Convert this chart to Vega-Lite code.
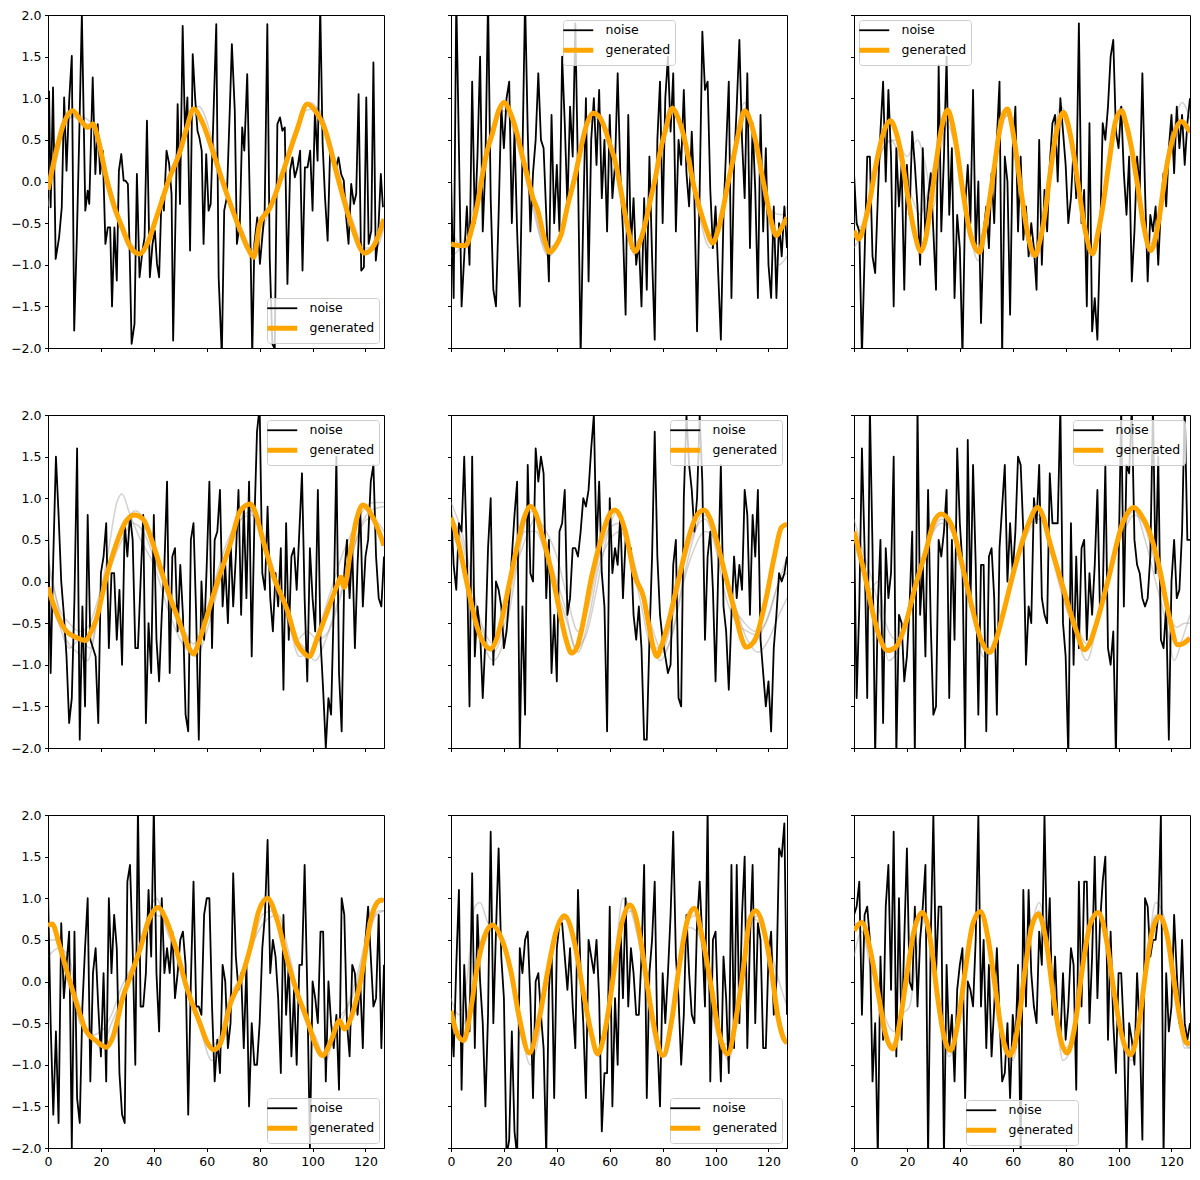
{
  "$schema": "https://vega.github.io/schema/vega-lite/v6.json",
  "background": "white",
  "padding": {"left": 10, "top": 8, "right": 5, "bottom": 5},
  "bounds": "flush",
  "columns": 3,
  "spacing": 67,
  "resolve": {"scale": {"color": "independent"}, "legend": {"color": "independent"}},
  "config": {
    "font": "DejaVu Sans",
    "view": {"stroke": "black", "strokeWidth": 1},
    "axis": {"grid": false, "title": null, "domainColor": "black", "domainWidth": 1, "tickColor": "black", "tickWidth": 1, "tickSize": 3.5, "labelPadding": 3.5, "labelFont": "DejaVu Sans", "labelFontSize": 12.5, "labelColor": "black"},
    "legend": {"labelFont": "DejaVu Sans", "labelFontSize": 12.5, "labelColor": "black", "symbolType": "stroke", "symbolSize": 900, "symbolOffset": 5, "fillColor": "rgba(255,255,255,0.8)", "strokeColor": "#cccccc", "cornerRadius": 3, "padding": 4, "rowPadding": 3, "labelOffset": 21, "offset": 5}
  },
  "datasets": {
    "n1": [{"x":0.4,"y":1.09},{"x":1.0,"y":-0.31},{"x":1.9,"y":1.13},{"x":2.9,"y":-0.93},{"x":4.2,"y":-0.67},{"x":5.2,"y":-0.31},{"x":6.1,"y":1.01},{"x":7.0,"y":0.13},{"x":8.0,"y":0.97},{"x":9.0,"y":1.51},{"x":9.9,"y":-1.79},{"x":10.9,"y":-0.67},{"x":11.8,"y":0.53},{"x":12.8,"y":2.01},{"x":14.1,"y":-0.35},{"x":15.0,"y":-0.11},{"x":15.6,"y":-0.27},{"x":16.9,"y":1.25},{"x":17.9,"y":0.09},{"x":18.8,"y":0.69},{"x":19.7,"y":0.09},{"x":20.7,"y":0.37},{"x":21.7,"y":-0.75},{"x":22.6,"y":-0.55},{"x":23.5,"y":-0.55},{"x":24.2,"y":-1.5},{"x":25.1,"y":-0.55},{"x":26.0,"y":-1.19},{"x":26.8,"y":0.13},{"x":27.7,"y":0.33},{"x":28.6,"y":0.01},{"x":29.3,"y":0.01},{"x":30.2,"y":-0.03},{"x":30.8,"y":-0.75},{"x":31.6,"y":-1.95},{"x":32.7,"y":-1.71},{"x":33.6,"y":0.09},{"x":34.6,"y":-1.15},{"x":35.7,"y":-0.83},{"x":36.5,"y":-0.67},{"x":37.4,"y":0.73},{"x":38.5,"y":-1.15},{"x":39.5,"y":-0.75},{"x":40.4,"y":-0.59},{"x":41.2,"y":-0.99},{"x":42.0,"y":-1.15},{"x":42.9,"y":-0.19},{"x":43.8,"y":-0.35},{"x":44.8,"y":0.37},{"x":45.8,"y":0.21},{"x":46.7,"y":-0.15},{"x":47.3,"y":-1.91},{"x":48.2,"y":-0.43},{"x":49.0,"y":0.93},{"x":49.9,"y":-0.27},{"x":50.9,"y":1.87},{"x":51.8,"y":0.57},{"x":52.7,"y":1.01},{"x":53.7,"y":-0.83},{"x":54.7,"y":1.53},{"x":55.6,"y":1.01},{"x":56.5,"y":0.61},{"x":57.2,"y":0.53},{"x":58.1,"y":0.37},{"x":58.8,"y":-0.75},{"x":59.8,"y":0.33},{"x":60.7,"y":-0.35},{"x":61.5,"y":-0.27},{"x":62.6,"y":0.85},{"x":63.6,"y":1.89},{"x":64.5,"y":-1.15},{"x":65.7,"y":-2.1},{"x":66.6,"y":-0.35},{"x":67.6,"y":-0.19},{"x":68.7,"y":0.85},{"x":69.5,"y":1.65},{"x":70.6,"y":0.85},{"x":71.4,"y":-0.75},{"x":72.5,"y":-0.51},{"x":73.4,"y":0.65},{"x":74.2,"y":0.37},{"x":75.3,"y":1.29},{"x":76.3,"y":-0.27},{"x":77.2,"y":-2.1},{"x":78.0,"y":-0.75},{"x":79.1,"y":-0.43},{"x":80.1,"y":-0.99},{"x":81.0,"y":-0.67},{"x":81.9,"y":-0.35},{"x":82.9,"y":1.89},{"x":83.8,"y":-0.91},{"x":84.8,"y":-1.95},{"x":85.7,"y":-2.01},{"x":86.7,"y":0.69},{"x":87.7,"y":0.77},{"x":88.6,"y":0.61},{"x":89.5,"y":0.65},{"x":90.5,"y":-1.23},{"x":91.5,"y":0.13},{"x":92.4,"y":0.29},{"x":93.3,"y":0.05},{"x":94.3,"y":0.17},{"x":95.3,"y":0.37},{"x":96.2,"y":-1.07},{"x":97.1,"y":0.17},{"x":98.1,"y":0.17},{"x":99.1,"y":0.37},{"x":100.0,"y":-0.35},{"x":100.9,"y":0.85},{"x":101.9,"y":0.25},{"x":102.9,"y":2.1},{"x":103.8,"y":0.45},{"x":104.7,"y":-0.19},{"x":105.7,"y":-0.71},{"x":106.7,"y":0.45},{"x":107.7,"y":0.25},{"x":108.9,"y":0.17},{"x":109.8,"y":0.29},{"x":110.8,"y":0.09},{"x":111.8,"y":0.01},{"x":112.7,"y":-0.43},{"x":113.6,"y":-0.75},{"x":114.6,"y":-0.03},{"x":115.6,"y":-0.27},{"x":116.5,"y":-0.15},{"x":117.4,"y":1.05},{"x":118.4,"y":-1.07},{"x":119.4,"y":-1.03},{"x":120.3,"y":1.01},{"x":121.2,"y":-0.75},{"x":122.2,"y":-0.59},{"x":123.0,"y":1.43},{"x":123.9,"y":-0.95},{"x":124.7,"y":-0.71},{"x":125.8,"y":0.09},{"x":126.6,"y":-0.31}],
    "n2": [{"x":0,"y":0.1},{"x":1,"y":-1.4},{"x":2,"y":2.2},{"x":3,"y":0.4},{"x":4,"y":-1.5},{"x":5,"y":-0.9},{"x":6,"y":-0.3},{"x":7,"y":-1.0},{"x":8,"y":1.2},{"x":9,"y":-0.5},{"x":10,"y":0.3},{"x":11,"y":1.5},{"x":12,"y":-0.6},{"x":13,"y":0.2},{"x":14,"y":2.2},{"x":15,"y":-0.2},{"x":16,"y":-1.3},{"x":17,"y":-1.5},{"x":18,"y":-0.4},{"x":19,"y":0.9},{"x":20,"y":0.4},{"x":21,"y":1.0},{"x":22,"y":1.2},{"x":23,"y":-0.5},{"x":24,"y":0.6},{"x":25,"y":-0.6},{"x":26,"y":-1.5},{"x":27,"y":0.3},{"x":28,"y":2.2},{"x":29,"y":0.6},{"x":30,"y":-0.6},{"x":31,"y":0.1},{"x":32,"y":0.5},{"x":33,"y":1.3},{"x":34,"y":0.5},{"x":35,"y":0.4},{"x":36,"y":-0.4},{"x":37,"y":-1.2},{"x":38,"y":0.8},{"x":39,"y":-0.5},{"x":40,"y":0.2},{"x":41,"y":-0.6},{"x":42,"y":1.5},{"x":43,"y":0.7},{"x":44,"y":-0.3},{"x":45,"y":0.9},{"x":46,"y":0.3},{"x":47,"y":1.9},{"x":48,"y":0.1},{"x":49,"y":-2.1},{"x":50,"y":-0.4},{"x":51,"y":1.0},{"x":52,"y":-1.2},{"x":53,"y":0.5},{"x":54,"y":1.0},{"x":55,"y":0.2},{"x":56,"y":1.1},{"x":57,"y":-0.2},{"x":58,"y":0.5},{"x":59,"y":-0.6},{"x":60,"y":0.8},{"x":61,"y":-0.2},{"x":62,"y":0.2},{"x":63,"y":1.3},{"x":64,"y":0.1},{"x":65,"y":-0.6},{"x":66,"y":-1.6},{"x":67,"y":0.8},{"x":68,"y":-0.8},{"x":69,"y":-0.2},{"x":70,"y":-1.0},{"x":71,"y":-0.7},{"x":72,"y":-1.5},{"x":73,"y":-0.2},{"x":74,"y":-1.3},{"x":75,"y":0.3},{"x":76,"y":-0.9},{"x":77,"y":-1.9},{"x":78,"y":0.5},{"x":79,"y":1.2},{"x":80,"y":-0.5},{"x":81,"y":1.0},{"x":82,"y":1.5},{"x":83,"y":0.6},{"x":84,"y":1.3},{"x":85,"y":-0.6},{"x":86,"y":0.5},{"x":87,"y":0.2},{"x":88,"y":1.1},{"x":89,"y":0.1},{"x":90,"y":-0.3},{"x":91,"y":0.6},{"x":92,"y":-0.2},{"x":93,"y":-1.8},{"x":94,"y":-0.1},{"x":95,"y":1.8},{"x":96,"y":1.1},{"x":97,"y":1.2},{"x":98,"y":-0.1},{"x":99,"y":-0.8},{"x":100,"y":-0.3},{"x":101,"y":-1.1},{"x":102,"y":-1.9},{"x":103,"y":-0.4},{"x":104,"y":0.4},{"x":105,"y":1.2},{"x":106,"y":-1.4},{"x":107,"y":0.2},{"x":108,"y":0.9},{"x":109,"y":1.7},{"x":110,"y":0.5},{"x":111,"y":-0.2},{"x":112,"y":1.3},{"x":113,"y":-0.8},{"x":114,"y":0.7},{"x":115,"y":-0.1},{"x":116,"y":-1.4},{"x":117,"y":0.8},{"x":118,"y":-0.6},{"x":119,"y":0.4},{"x":120,"y":-1.0},{"x":121,"y":-1.4},{"x":122,"y":-0.3},{"x":123,"y":-1.4},{"x":124,"y":-0.5},{"x":125,"y":-0.9},{"x":126,"y":-0.3},{"x":127,"y":-0.8}],
    "n3": [{"x":0,"y":0.1},{"x":1,"y":-0.5},{"x":2,"y":-0.6},{"x":3,"y":-2.1},{"x":4,"y":-0.9},{"x":5,"y":0.3},{"x":6,"y":0.3},{"x":7,"y":-0.9},{"x":8,"y":-1.1},{"x":9,"y":-0.2},{"x":10,"y":0.6},{"x":11,"y":1.2},{"x":12,"y":0.0},{"x":13,"y":1.1},{"x":14,"y":0.3},{"x":15,"y":-1.5},{"x":16,"y":0.4},{"x":17,"y":-0.3},{"x":18,"y":0.2},{"x":19,"y":-1.3},{"x":20,"y":0.2},{"x":21,"y":-0.4},{"x":22,"y":0.6},{"x":23,"y":0.2},{"x":24,"y":-0.3},{"x":25,"y":-1.0},{"x":26,"y":0.4},{"x":27,"y":-0.7},{"x":28,"y":-0.2},{"x":29,"y":0.1},{"x":30,"y":-0.6},{"x":31,"y":-1.3},{"x":32,"y":1.4},{"x":33,"y":-0.6},{"x":34,"y":0.3},{"x":35,"y":1.5},{"x":36,"y":-0.4},{"x":37,"y":0.4},{"x":38,"y":-1.4},{"x":39,"y":-0.4},{"x":40,"y":-0.8},{"x":41,"y":-2.1},{"x":42,"y":-0.3},{"x":43,"y":0.2},{"x":44,"y":-0.5},{"x":45,"y":1.1},{"x":46,"y":-0.8},{"x":47,"y":0.0},{"x":48,"y":-1.7},{"x":49,"y":-0.6},{"x":50,"y":-0.3},{"x":51,"y":-0.8},{"x":52,"y":0.1},{"x":53,"y":-0.5},{"x":54,"y":0.5},{"x":55,"y":1.2},{"x":56,"y":-2.1},{"x":57,"y":0.3},{"x":58,"y":0.0},{"x":59,"y":-1.6},{"x":60,"y":0.4},{"x":61,"y":0.9},{"x":62,"y":-0.6},{"x":63,"y":0.3},{"x":64,"y":-0.7},{"x":65,"y":-0.3},{"x":66,"y":-0.9},{"x":67,"y":-0.5},{"x":68,"y":-0.8},{"x":69,"y":-1.3},{"x":70,"y":0.5},{"x":71,"y":-1.0},{"x":72,"y":-0.1},{"x":73,"y":-0.6},{"x":74,"y":0.2},{"x":75,"y":0.7},{"x":76,"y":0.8},{"x":77,"y":0.0},{"x":78,"y":1.0},{"x":79,"y":0.6},{"x":80,"y":0.2},{"x":81,"y":-0.5},{"x":82,"y":-0.2},{"x":83,"y":0.4},{"x":84,"y":-0.2},{"x":85,"y":1.9},{"x":86,"y":-0.5},{"x":87,"y":-0.1},{"x":88,"y":-1.5},{"x":89,"y":0.7},{"x":90,"y":-1.8},{"x":91,"y":-1.4},{"x":92,"y":-1.9},{"x":93,"y":-0.7},{"x":94,"y":0.7},{"x":95,"y":0.5},{"x":96,"y":0.9},{"x":97,"y":1.5},{"x":98,"y":1.7},{"x":99,"y":0.6},{"x":100,"y":0.4},{"x":101,"y":0.9},{"x":102,"y":0.1},{"x":103,"y":-0.4},{"x":104,"y":0.3},{"x":105,"y":-1.2},{"x":106,"y":-0.6},{"x":107,"y":0.3},{"x":108,"y":-0.1},{"x":109,"y":1.3},{"x":110,"y":-0.1},{"x":111,"y":-1.2},{"x":112,"y":-0.4},{"x":113,"y":-0.6},{"x":114,"y":-0.3},{"x":115,"y":-1.0},{"x":116,"y":-0.3},{"x":117,"y":0.1},{"x":118,"y":-0.3},{"x":119,"y":0.4},{"x":120,"y":0.8},{"x":121,"y":0.1},{"x":122,"y":0.9},{"x":123,"y":0.4},{"x":124,"y":0.8},{"x":125,"y":0.2},{"x":126,"y":0.7},{"x":127,"y":1.0}],
    "n4": [{"x":0,"y":0.7},{"x":1,"y":-1.1},{"x":2,"y":0.3},{"x":3,"y":1.5},{"x":4,"y":0.8},{"x":5,"y":0.0},{"x":6,"y":-0.4},{"x":7,"y":-0.9},{"x":8,"y":-1.7},{"x":9,"y":-1.4},{"x":10,"y":-0.2},{"x":11,"y":1.6},{"x":12,"y":-1.9},{"x":13,"y":-0.3},{"x":14,"y":-1.5},{"x":15,"y":0.8},{"x":16,"y":-0.7},{"x":17,"y":-0.8},{"x":18,"y":-0.9},{"x":19,"y":-1.7},{"x":20,"y":0.1},{"x":21,"y":0.3},{"x":22,"y":0.7},{"x":23,"y":-0.8},{"x":24,"y":0.1},{"x":25,"y":0.1},{"x":26,"y":-0.7},{"x":27,"y":-0.1},{"x":28,"y":-1.0},{"x":29,"y":0.7},{"x":30,"y":0.3},{"x":31,"y":0.8},{"x":32,"y":0.5},{"x":33,"y":-0.8},{"x":34,"y":-0.8},{"x":35,"y":0.0},{"x":36,"y":0.8},{"x":37,"y":-1.7},{"x":38,"y":-0.5},{"x":39,"y":-1.1},{"x":40,"y":0.8},{"x":41,"y":-0.7},{"x":42,"y":-1.2},{"x":43,"y":-0.4},{"x":44,"y":0.2},{"x":45,"y":1.2},{"x":46,"y":-1.1},{"x":47,"y":0.3},{"x":48,"y":0.4},{"x":49,"y":-0.6},{"x":50,"y":0.2},{"x":51,"y":-0.4},{"x":52,"y":-1.6},{"x":53,"y":-1.8},{"x":54,"y":0.5},{"x":55,"y":0.7},{"x":56,"y":-0.4},{"x":57,"y":-1.9},{"x":58,"y":0.0},{"x":59,"y":-0.7},{"x":60,"y":0.2},{"x":61,"y":1.2},{"x":62,"y":-0.8},{"x":63,"y":0.5},{"x":64,"y":0.6},{"x":65,"y":1.1},{"x":66,"y":-0.3},{"x":67,"y":0.2},{"x":68,"y":-0.5},{"x":69,"y":0.5},{"x":70,"y":-0.3},{"x":71,"y":0.3},{"x":72,"y":1.1},{"x":73,"y":-0.4},{"x":74,"y":0.9},{"x":75,"y":-0.2},{"x":76,"y":1.2},{"x":77,"y":-0.9},{"x":78,"y":0.7},{"x":79,"y":1.8},{"x":80,"y":2.1},{"x":81,"y":0.1},{"x":82,"y":-0.1},{"x":83,"y":0.9},{"x":84,"y":-0.2},{"x":85,"y":-0.6},{"x":86,"y":0.1},{"x":87,"y":-0.3},{"x":88,"y":0.4},{"x":89,"y":-1.3},{"x":90,"y":0.7},{"x":91,"y":-0.7},{"x":92,"y":0.3},{"x":93,"y":0.4},{"x":94,"y":-0.1},{"x":95,"y":0.6},{"x":96,"y":1.3},{"x":97,"y":-0.2},{"x":98,"y":-1.2},{"x":99,"y":0.4},{"x":100,"y":-0.2},{"x":101,"y":-0.6},{"x":102,"y":1.1},{"x":103,"y":-0.7},{"x":104,"y":-1.3},{"x":105,"y":-2.0},{"x":106,"y":-1.4},{"x":107,"y":-1.6},{"x":108,"y":-0.3},{"x":109,"y":1.5},{"x":110,"y":-1.1},{"x":111,"y":-1.8},{"x":112,"y":0.1},{"x":113,"y":0.5},{"x":114,"y":-0.2},{"x":115,"y":0.4},{"x":116,"y":-0.8},{"x":117,"y":0.2},{"x":118,"y":0.9},{"x":119,"y":-0.3},{"x":120,"y":0.3},{"x":121,"y":0.5},{"x":122,"y":1.2},{"x":123,"y":1.4},{"x":124,"y":0.3},{"x":125,"y":-0.2},{"x":126,"y":-0.3},{"x":127,"y":0.3}],
    "n5": [{"x":0,"y":0.9},{"x":1,"y":0.2},{"x":2,"y":-0.1},{"x":3,"y":0.7},{"x":4,"y":0.6},{"x":5,"y":1.5},{"x":6,"y":0.3},{"x":7,"y":-1.5},{"x":8,"y":1.5},{"x":9,"y":-0.9},{"x":10,"y":-0.3},{"x":11,"y":-0.6},{"x":12,"y":-1.4},{"x":13,"y":-0.7},{"x":14,"y":0.4},{"x":15,"y":1.0},{"x":16,"y":-1.0},{"x":17,"y":0.0},{"x":18,"y":-0.1},{"x":19,"y":-0.3},{"x":20,"y":-0.8},{"x":21,"y":-0.6},{"x":22,"y":-0.2},{"x":23,"y":0.3},{"x":24,"y":0.8},{"x":25,"y":1.2},{"x":26,"y":-2.0},{"x":27,"y":-0.3},{"x":28,"y":-1.6},{"x":29,"y":1.4},{"x":30,"y":0.1},{"x":31,"y":0.0},{"x":32,"y":1.6},{"x":33,"y":1.2},{"x":34,"y":1.5},{"x":35,"y":1.3},{"x":36,"y":-0.2},{"x":37,"y":0.5},{"x":38,"y":-1.1},{"x":39,"y":-0.4},{"x":40,"y":-1.2},{"x":41,"y":0.6},{"x":42,"y":0.7},{"x":43,"y":1.1},{"x":44,"y":-0.4},{"x":45,"y":-0.2},{"x":46,"y":0.4},{"x":47,"y":0.4},{"x":48,"y":0.3},{"x":49,"y":0.6},{"x":50,"y":1.0},{"x":51,"y":0.9},{"x":52,"y":1.1},{"x":53,"y":1.6},{"x":54,"y":2.0},{"x":55,"y":0.4},{"x":56,"y":1.2},{"x":57,"y":0.1},{"x":58,"y":-0.3},{"x":59,"y":-1.8},{"x":60,"y":1.0},{"x":61,"y":0.1},{"x":62,"y":0.4},{"x":63,"y":0.2},{"x":64,"y":0.8},{"x":65,"y":-0.2},{"x":66,"y":0.5},{"x":67,"y":0.4},{"x":68,"y":0.4},{"x":69,"y":-0.4},{"x":70,"y":-0.7},{"x":71,"y":-0.3},{"x":72,"y":-0.8},{"x":73,"y":-1.9},{"x":74,"y":-1.9},{"x":75,"y":-0.7},{"x":76,"y":0.3},{"x":77,"y":1.8},{"x":78,"y":0.3},{"x":79,"y":-0.4},{"x":80,"y":-0.7},{"x":81,"y":-0.9},{"x":82,"y":-1.1},{"x":83,"y":-1.0},{"x":84,"y":0.2},{"x":85,"y":0.5},{"x":86,"y":-1.4},{"x":87,"y":-1.5},{"x":88,"y":1.0},{"x":89,"y":2.0},{"x":90,"y":1.4},{"x":91,"y":1.1},{"x":92,"y":0.6},{"x":93,"y":1.0},{"x":94,"y":2.0},{"x":95,"y":1.2},{"x":96,"y":-0.7},{"x":97,"y":0.3},{"x":98,"y":0.6},{"x":99,"y":-0.1},{"x":100,"y":-1.2},{"x":101,"y":0.1},{"x":102,"y":1.4},{"x":103,"y":-0.3},{"x":104,"y":-0.6},{"x":105,"y":-1.3},{"x":106,"y":-0.4},{"x":107,"y":0.3},{"x":108,"y":-0.2},{"x":109,"y":0.2},{"x":110,"y":-0.1},{"x":111,"y":1.1},{"x":112,"y":0.8},{"x":113,"y":-0.4},{"x":114,"y":0.8},{"x":115,"y":0.3},{"x":116,"y":1.1},{"x":117,"y":-0.7},{"x":118,"y":-1.1},{"x":119,"y":-1.5},{"x":120,"y":-1.2},{"x":121,"y":-1.8},{"x":122,"y":-0.8},{"x":123,"y":-0.4},{"x":124,"y":0.1},{"x":125,"y":0.0},{"x":126,"y":0.1},{"x":127,"y":0.3}],
    "n6": [{"x":0,"y":0.7},{"x":1,"y":-1.4},{"x":2,"y":-0.3},{"x":3,"y":1.6},{"x":4,"y":0.4},{"x":5,"y":-1.4},{"x":6,"y":2.1},{"x":7,"y":0.4},{"x":8,"y":-2.1},{"x":9,"y":-0.3},{"x":10,"y":0.5},{"x":11,"y":-1.7},{"x":12,"y":0.4},{"x":13,"y":-0.2},{"x":14,"y":0.1},{"x":15,"y":1.5},{"x":16,"y":-2.1},{"x":17,"y":-0.4},{"x":18,"y":-0.5},{"x":19,"y":-1.2},{"x":20,"y":-0.9},{"x":21,"y":-0.3},{"x":22,"y":0.6},{"x":23,"y":-2.1},{"x":24,"y":2.1},{"x":25,"y":-0.4},{"x":26,"y":0.2},{"x":27,"y":-0.9},{"x":28,"y":1.1},{"x":29,"y":-0.5},{"x":30,"y":-1.6},{"x":31,"y":-1.5},{"x":32,"y":0.5},{"x":33,"y":0.3},{"x":34,"y":0.6},{"x":35,"y":1.1},{"x":36,"y":-1.4},{"x":37,"y":0.5},{"x":38,"y":-0.7},{"x":39,"y":1.6},{"x":40,"y":0.7},{"x":41,"y":0.2},{"x":42,"y":-2.0},{"x":43,"y":1.7},{"x":44,"y":-0.3},{"x":45,"y":1.4},{"x":46,"y":0.2},{"x":47,"y":-1.6},{"x":48,"y":0.2},{"x":49,"y":0.2},{"x":50,"y":-1.8},{"x":51,"y":0.3},{"x":52,"y":0.4},{"x":53,"y":-0.2},{"x":54,"y":-1.6},{"x":55,"y":0.4},{"x":56,"y":0.9},{"x":57,"y":1.4},{"x":58,"y":0.0},{"x":59,"y":0.7},{"x":60,"y":0.1},{"x":61,"y":0.6},{"x":62,"y":1.5},{"x":63,"y":1.4},{"x":64,"y":0.6},{"x":65,"y":-1.0},{"x":66,"y":-0.3},{"x":67,"y":-0.5},{"x":68,"y":1.0},{"x":69,"y":0.7},{"x":70,"y":1.4},{"x":71,"y":-0.2},{"x":72,"y":-0.4},{"x":73,"y":-0.5},{"x":74,"y":1.3},{"x":75,"y":0.7},{"x":76,"y":0.7},{"x":77,"y":0.7},{"x":78,"y":2.1},{"x":79,"y":-0.5},{"x":80,"y":-0.9},{"x":81,"y":-2.1},{"x":82,"y":0.7},{"x":83,"y":-1.0},{"x":84,"y":0.3},{"x":85,"y":-0.8},{"x":86,"y":0.4},{"x":87,"y":0.5},{"x":88,"y":-0.7},{"x":89,"y":0.1},{"x":90,"y":-0.4},{"x":91,"y":0.2},{"x":92,"y":1.1},{"x":93,"y":-0.4},{"x":94,"y":-0.2},{"x":95,"y":1.4},{"x":96,"y":-0.8},{"x":97,"y":-1.0},{"x":98,"y":-0.6},{"x":99,"y":-2.1},{"x":100,"y":0.2},{"x":101,"y":2.1},{"x":102,"y":-0.3},{"x":103,"y":1.4},{"x":104,"y":1.3},{"x":105,"y":2.1},{"x":106,"y":0.5},{"x":107,"y":0.2},{"x":108,"y":0.1},{"x":109,"y":-0.2},{"x":110,"y":-0.3},{"x":111,"y":-0.2},{"x":112,"y":0.3},{"x":113,"y":2.1},{"x":114,"y":0.1},{"x":115,"y":1.5},{"x":116,"y":-0.7},{"x":117,"y":-0.8},{"x":118,"y":-0.3},{"x":119,"y":-1.9},{"x":120,"y":0.0},{"x":121,"y":0.5},{"x":122,"y":-0.2},{"x":123,"y":-0.1},{"x":124,"y":0.6},{"x":125,"y":2.1},{"x":126,"y":0.5},{"x":127,"y":0.5}],
    "n7": [{"x":0,"y":1.1},{"x":1,"y":-0.5},{"x":2,"y":-1.6},{"x":3,"y":-0.6},{"x":4,"y":-1.7},{"x":5,"y":0.7},{"x":6,"y":-0.2},{"x":7,"y":0.2},{"x":8,"y":0.6},{"x":9,"y":-2.0},{"x":10,"y":0.6},{"x":11,"y":-1.4},{"x":12,"y":-1.7},{"x":13,"y":-0.3},{"x":14,"y":0.4},{"x":15,"y":1.0},{"x":16,"y":-1.2},{"x":17,"y":0.1},{"x":18,"y":0.4},{"x":19,"y":-0.3},{"x":20,"y":-0.9},{"x":21,"y":0.1},{"x":22,"y":-1.2},{"x":23,"y":1.0},{"x":24,"y":0.1},{"x":25,"y":0.8},{"x":26,"y":0.4},{"x":27,"y":-1.1},{"x":28,"y":-1.6},{"x":29,"y":-1.7},{"x":30,"y":1.2},{"x":31,"y":1.4},{"x":32,"y":0.4},{"x":33,"y":-1.0},{"x":34,"y":2.1},{"x":35,"y":-0.3},{"x":36,"y":-0.3},{"x":37,"y":0.1},{"x":38,"y":1.1},{"x":39,"y":0.3},{"x":40,"y":2.1},{"x":41,"y":0.1},{"x":42,"y":-0.6},{"x":43,"y":1.0},{"x":44,"y":0.1},{"x":45,"y":0.4},{"x":46,"y":0.1},{"x":47,"y":0.6},{"x":48,"y":-0.2},{"x":49,"y":0.1},{"x":50,"y":0.5},{"x":51,"y":0.6},{"x":52,"y":0.2},{"x":53,"y":-1.6},{"x":54,"y":0.0},{"x":55,"y":1.2},{"x":56,"y":-0.3},{"x":57,"y":-0.3},{"x":58,"y":-0.4},{"x":59,"y":0.8},{"x":60,"y":1.0},{"x":61,"y":1.0},{"x":62,"y":-0.3},{"x":63,"y":-1.2},{"x":64,"y":-0.7},{"x":65,"y":-1.1},{"x":66,"y":0.2},{"x":67,"y":0.0},{"x":68,"y":-0.8},{"x":69,"y":-0.5},{"x":70,"y":1.3},{"x":71,"y":0.3},{"x":72,"y":-0.1},{"x":73,"y":0.1},{"x":74,"y":-0.8},{"x":75,"y":0.2},{"x":76,"y":-1.5},{"x":77,"y":-0.5},{"x":78,"y":-1.0},{"x":79,"y":-1.0},{"x":80,"y":-0.5},{"x":81,"y":0.4},{"x":82,"y":0.8},{"x":83,"y":1.7},{"x":84,"y":0.1},{"x":85,"y":0.5},{"x":86,"y":0.3},{"x":87,"y":-0.2},{"x":88,"y":-1.1},{"x":89,"y":0.8},{"x":90,"y":-0.4},{"x":91,"y":0.2},{"x":92,"y":-0.9},{"x":93,"y":-0.1},{"x":94,"y":-1.0},{"x":95,"y":0.2},{"x":96,"y":0.2},{"x":97,"y":1.4},{"x":98,"y":-0.1},{"x":99,"y":-2.0},{"x":100,"y":0.0},{"x":101,"y":-0.2},{"x":102,"y":-0.5},{"x":103,"y":0.6},{"x":104,"y":0.6},{"x":105,"y":-1.2},{"x":106,"y":0.0},{"x":107,"y":-0.5},{"x":108,"y":-0.8},{"x":109,"y":-0.4},{"x":110,"y":-1.3},{"x":111,"y":1.0},{"x":112,"y":0.8},{"x":113,"y":-0.5},{"x":114,"y":-0.9},{"x":115,"y":0.2},{"x":116,"y":0.1},{"x":117,"y":-0.4},{"x":118,"y":0.0},{"x":119,"y":-0.8},{"x":120,"y":0.5},{"x":121,"y":0.9},{"x":122,"y":0.3},{"x":123,"y":-0.3},{"x":124,"y":-0.2},{"x":125,"y":0.8},{"x":126,"y":-0.8},{"x":127,"y":0.2}],
    "n8": [{"x":0,"y":-0.4},{"x":1,"y":-0.9},{"x":2,"y":0.2},{"x":3,"y":1.1},{"x":4,"y":-1.3},{"x":5,"y":0.2},{"x":6,"y":-0.6},{"x":7,"y":-0.6},{"x":8,"y":1.3},{"x":9,"y":-0.8},{"x":10,"y":0.8},{"x":11,"y":0.0},{"x":12,"y":-0.5},{"x":13,"y":-1.5},{"x":14,"y":-0.4},{"x":15,"y":1.8},{"x":16,"y":-0.5},{"x":17,"y":0.6},{"x":18,"y":1.6},{"x":19,"y":0.3},{"x":20,"y":-0.2},{"x":21,"y":-2.1},{"x":22,"y":-1.9},{"x":23,"y":-0.6},{"x":24,"y":-1.8},{"x":25,"y":-2.1},{"x":26,"y":0.4},{"x":27,"y":0.1},{"x":28,"y":0.5},{"x":29,"y":0.6},{"x":30,"y":-0.2},{"x":31,"y":-1.4},{"x":32,"y":0.0},{"x":33,"y":0.1},{"x":34,"y":-0.4},{"x":35,"y":-0.8},{"x":36,"y":-2.1},{"x":37,"y":-0.1},{"x":38,"y":0.4},{"x":39,"y":-1.4},{"x":40,"y":0.4},{"x":41,"y":0.7},{"x":42,"y":0.7},{"x":43,"y":0.3},{"x":44,"y":-0.1},{"x":45,"y":0.4},{"x":46,"y":-0.3},{"x":47,"y":-0.8},{"x":48,"y":1.1},{"x":49,"y":0.1},{"x":50,"y":-0.5},{"x":51,"y":-1.4},{"x":52,"y":0.5},{"x":53,"y":0.3},{"x":54,"y":0.1},{"x":55,"y":0.5},{"x":56,"y":-0.2},{"x":57,"y":-1.8},{"x":58,"y":-1.1},{"x":59,"y":-1.1},{"x":60,"y":0.9},{"x":61,"y":-1.5},{"x":62,"y":-0.2},{"x":63,"y":-1.0},{"x":64,"y":0.7},{"x":65,"y":-0.2},{"x":66,"y":1.0},{"x":67,"y":-0.3},{"x":68,"y":0.4},{"x":69,"y":0.1},{"x":70,"y":-0.4},{"x":71,"y":-0.4},{"x":72,"y":0.3},{"x":73,"y":1.4},{"x":74,"y":-1.4},{"x":75,"y":0.1},{"x":76,"y":0.5},{"x":77,"y":1.2},{"x":78,"y":-0.7},{"x":79,"y":-1.5},{"x":80,"y":0.1},{"x":81,"y":-0.5},{"x":82,"y":0.1},{"x":83,"y":0.8},{"x":84,"y":1.8},{"x":85,"y":0.3},{"x":86,"y":-0.2},{"x":87,"y":-1.0},{"x":88,"y":-0.4},{"x":89,"y":0.8},{"x":90,"y":0.1},{"x":91,"y":-0.4},{"x":92,"y":-0.5},{"x":93,"y":0.7},{"x":94,"y":1.2},{"x":95,"y":0.5},{"x":96,"y":-0.3},{"x":97,"y":2.1},{"x":98,"y":-1.2},{"x":99,"y":0.5},{"x":100,"y":0.6},{"x":101,"y":-0.4},{"x":102,"y":-1.2},{"x":103,"y":0.3},{"x":104,"y":-0.2},{"x":105,"y":-1.1},{"x":106,"y":1.4},{"x":107,"y":-0.8},{"x":108,"y":1.4},{"x":109,"y":-0.5},{"x":110,"y":0.8},{"x":111,"y":1.5},{"x":112,"y":-0.8},{"x":113,"y":0.5},{"x":114,"y":1.4},{"x":115,"y":-0.5},{"x":116,"y":0.7},{"x":117,"y":0.5},{"x":118,"y":-0.8},{"x":119,"y":-0.8},{"x":120,"y":0.3},{"x":121,"y":0.6},{"x":122,"y":-0.4},{"x":123,"y":0.0},{"x":124,"y":1.6},{"x":125,"y":1.5},{"x":126,"y":1.9},{"x":127,"y":-0.4}],
    "n9": [{"x":0,"y":0.8},{"x":1,"y":0.9},{"x":2,"y":1.2},{"x":3,"y":-0.4},{"x":4,"y":0.8},{"x":5,"y":0.9},{"x":6,"y":0.5},{"x":7,"y":-1.2},{"x":8,"y":-0.5},{"x":9,"y":-2.1},{"x":10,"y":0.3},{"x":11,"y":-0.7},{"x":12,"y":0.9},{"x":13,"y":1.4},{"x":14,"y":-0.1},{"x":15,"y":1.8},{"x":16,"y":-0.9},{"x":17,"y":1.0},{"x":18,"y":-0.7},{"x":19,"y":0.5},{"x":20,"y":1.6},{"x":21,"y":0.0},{"x":22,"y":-0.1},{"x":23,"y":0.9},{"x":24,"y":-0.3},{"x":25,"y":0.5},{"x":26,"y":0.9},{"x":27,"y":1.4},{"x":28,"y":-2.1},{"x":29,"y":0.5},{"x":30,"y":2.0},{"x":31,"y":0.1},{"x":32,"y":0.9},{"x":33,"y":0.9},{"x":34,"y":-2.1},{"x":35,"y":0.2},{"x":36,"y":-0.8},{"x":37,"y":-0.4},{"x":38,"y":-1.2},{"x":39,"y":-0.1},{"x":40,"y":0.2},{"x":41,"y":0.4},{"x":42,"y":-1.4},{"x":43,"y":0.0},{"x":44,"y":-0.1},{"x":45,"y":-0.3},{"x":46,"y":0.5},{"x":47,"y":2.0},{"x":48,"y":-0.3},{"x":49,"y":0.5},{"x":50,"y":-0.8},{"x":51,"y":0.2},{"x":52,"y":-0.9},{"x":53,"y":-0.3},{"x":54,"y":0.4},{"x":55,"y":-0.4},{"x":56,"y":-1.2},{"x":57,"y":-1.1},{"x":58,"y":-0.5},{"x":59,"y":-1.4},{"x":60,"y":-0.4},{"x":61,"y":-0.8},{"x":62,"y":0.2},{"x":63,"y":-2.1},{"x":64,"y":1.1},{"x":65,"y":-0.3},{"x":66,"y":1.1},{"x":67,"y":0.1},{"x":68,"y":-0.3},{"x":69,"y":-0.5},{"x":70,"y":0.6},{"x":71,"y":0.2},{"x":72,"y":2.0},{"x":73,"y":0.3},{"x":74,"y":1.0},{"x":75,"y":-0.4},{"x":76,"y":0.3},{"x":77,"y":-0.5},{"x":78,"y":-0.7},{"x":79,"y":0.1},{"x":80,"y":-0.7},{"x":81,"y":-0.3},{"x":82,"y":0.4},{"x":83,"y":0.2},{"x":84,"y":-1.3},{"x":85,"y":1.2},{"x":86,"y":-0.3},{"x":87,"y":1.2},{"x":88,"y":1.2},{"x":89,"y":-0.5},{"x":90,"y":0.3},{"x":91,"y":1.5},{"x":92,"y":-0.2},{"x":93,"y":0.7},{"x":94,"y":1.2},{"x":95,"y":1.5},{"x":96,"y":-0.7},{"x":97,"y":0.6},{"x":98,"y":-0.5},{"x":99,"y":-1.1},{"x":100,"y":0.1},{"x":101,"y":0.1},{"x":102,"y":-0.6},{"x":103,"y":-2.1},{"x":104,"y":-0.5},{"x":105,"y":-0.7},{"x":106,"y":-1.0},{"x":107,"y":0.1},{"x":108,"y":-0.6},{"x":109,"y":-1.9},{"x":110,"y":1.0},{"x":111,"y":0.9},{"x":112,"y":0.3},{"x":113,"y":0.5},{"x":114,"y":0.5},{"x":115,"y":0.8},{"x":116,"y":2.0},{"x":117,"y":-2.1},{"x":118,"y":0.1},{"x":119,"y":-0.6},{"x":120,"y":-0.3},{"x":121,"y":0.8},{"x":122,"y":0.1},{"x":123,"y":-0.5},{"x":124,"y":0.5},{"x":125,"y":-0.5},{"x":126,"y":-0.7},{"x":127,"y":-0.5}],
    "g1": [{"x":0,"y":-0.1},{"x":3,"y":0.35},{"x":6,"y":0.7},{"x":9.3,"y":0.85},{"x":12,"y":0.75},{"x":15,"y":0.65},{"x":17,"y":0.69},{"x":19,"y":0.5},{"x":22,"y":0.05},{"x":25,"y":-0.3},{"x":28,"y":-0.55},{"x":31,"y":-0.78},{"x":34.6,"y":-0.87},{"x":37.5,"y":-0.75},{"x":41,"y":-0.43},{"x":46,"y":0.05},{"x":50,"y":0.37},{"x":52.5,"y":0.65},{"x":55,"y":0.87},{"x":58.5,"y":0.7},{"x":62.6,"y":0.33},{"x":67.6,"y":-0.15},{"x":72.7,"y":-0.59},{"x":75.5,"y":-0.8},{"x":77.8,"y":-0.91},{"x":80,"y":-0.51},{"x":84,"y":-0.31},{"x":89,"y":0.13},{"x":94,"y":0.61},{"x":98,"y":0.93},{"x":101,"y":0.85},{"x":104.4,"y":0.65},{"x":109.5,"y":0.05},{"x":114.6,"y":-0.51},{"x":119.7,"y":-0.86},{"x":123.5,"y":-0.75},{"x":127,"y":-0.45}],
    "g2": [{"x":0,"y":-0.75},{"x":3,"y":-0.77},{"x":5.5,"y":-0.77},{"x":8,"y":-0.55},{"x":10,"y":-0.27},{"x":12,"y":0.1},{"x":13.7,"y":0.37},{"x":15.6,"y":0.57},{"x":18,"y":0.85},{"x":20,"y":0.95},{"x":22.5,"y":0.82},{"x":25,"y":0.57},{"x":27,"y":0.3},{"x":29,"y":0.05},{"x":31,"y":-0.2},{"x":32.8,"y":-0.35},{"x":35,"y":-0.65},{"x":37.2,"y":-0.85},{"x":39.5,"y":-0.78},{"x":41.7,"y":-0.63},{"x":44,"y":-0.3},{"x":46.8,"y":0.05},{"x":48.8,"y":0.35},{"x":50.6,"y":0.61},{"x":53.7,"y":0.82},{"x":56,"y":0.78},{"x":58,"y":0.65},{"x":60,"y":0.45},{"x":62,"y":0.25},{"x":64,"y":-0.07},{"x":66.5,"y":-0.51},{"x":69.6,"y":-0.84},{"x":71.5,"y":-0.72},{"x":73.4,"y":-0.51},{"x":75.5,"y":-0.2},{"x":77.3,"y":0.05},{"x":79,"y":0.35},{"x":81,"y":0.61},{"x":83.6,"y":0.88},{"x":86,"y":0.75},{"x":88.7,"y":0.45},{"x":90.5,"y":0.15},{"x":91.9,"y":-0.07},{"x":93.5,"y":-0.27},{"x":95,"y":-0.43},{"x":97,"y":-0.62},{"x":98.9,"y":-0.74},{"x":100.8,"y":-0.6},{"x":102.7,"y":-0.35},{"x":104.5,"y":-0.05},{"x":106.5,"y":0.25},{"x":108.8,"y":0.6},{"x":111,"y":0.85},{"x":113.2,"y":0.72},{"x":115.4,"y":0.45},{"x":117.3,"y":0.12},{"x":119.2,"y":-0.19},{"x":121,"y":-0.47},{"x":123,"y":-0.65},{"x":125,"y":-0.55},{"x":127,"y":-0.43}],
    "g3": [{"x":0,"y":-0.59},{"x":1.8,"y":-0.69},{"x":4,"y":-0.5},{"x":6.2,"y":-0.19},{"x":8,"y":0.15},{"x":9.4,"y":0.37},{"x":11.5,"y":0.62},{"x":13.8,"y":0.73},{"x":15.8,"y":0.6},{"x":17.6,"y":0.37},{"x":20.2,"y":-0.15},{"x":22.7,"y":-0.59},{"x":25.3,"y":-0.84},{"x":27,"y":-0.7},{"x":28.4,"y":-0.43},{"x":30.3,"y":0.05},{"x":32.9,"y":0.61},{"x":35.4,"y":0.86},{"x":37,"y":0.72},{"x":38.6,"y":0.45},{"x":41.1,"y":-0.11},{"x":43.7,"y":-0.59},{"x":47.5,"y":-0.85},{"x":49,"y":-0.65},{"x":50.6,"y":-0.35},{"x":53.2,"y":0.21},{"x":55.7,"y":0.73},{"x":58,"y":0.87},{"x":59.5,"y":0.7},{"x":60.8,"y":0.45},{"x":63.3,"y":-0.15},{"x":65.9,"y":-0.67},{"x":68.4,"y":-0.89},{"x":70,"y":-0.75},{"x":71.6,"y":-0.51},{"x":74.1,"y":0.09},{"x":76.6,"y":0.61},{"x":79.2,"y":0.83},{"x":80.8,"y":0.7},{"x":82.4,"y":0.45},{"x":84.9,"y":-0.07},{"x":87.4,"y":-0.59},{"x":90.2,"y":-0.87},{"x":92,"y":-0.65},{"x":93.8,"y":-0.35},{"x":96.3,"y":0.21},{"x":98.9,"y":0.73},{"x":101.1,"y":0.85},{"x":102.8,"y":0.7},{"x":104.6,"y":0.45},{"x":107.1,"y":-0.03},{"x":109.6,"y":-0.55},{"x":112.2,"y":-0.83},{"x":113.8,"y":-0.7},{"x":115.4,"y":-0.43},{"x":117.9,"y":0.13},{"x":121,"y":0.57},{"x":123.6,"y":0.72},{"x":127,"y":0.59}],
    "g4": [{"x":0,"y":-0.07},{"x":2.9,"y":-0.35},{"x":6.7,"y":-0.59},{"x":10.5,"y":-0.67},{"x":14.3,"y":-0.71},{"x":16,"y":-0.62},{"x":18.1,"y":-0.47},{"x":22,"y":0.05},{"x":25.8,"y":0.45},{"x":29.6,"y":0.73},{"x":32.7,"y":0.8},{"x":35.9,"y":0.75},{"x":39.7,"y":0.45},{"x":44.8,"y":-0.07},{"x":49.9,"y":-0.51},{"x":53,"y":-0.78},{"x":55,"y":-0.87},{"x":56.8,"y":-0.75},{"x":58.8,"y":-0.55},{"x":63.8,"y":-0.03},{"x":68.9,"y":0.45},{"x":72.7,"y":0.85},{"x":76.5,"y":0.93},{"x":78.5,"y":0.82},{"x":80.3,"y":0.61},{"x":85.4,"y":0.05},{"x":90.5,"y":-0.35},{"x":94.3,"y":-0.75},{"x":96.5,"y":-0.85},{"x":98.7,"y":-0.9},{"x":101.9,"y":-0.67},{"x":105.7,"y":-0.35},{"x":109.5,"y":-0.03},{"x":110.7,"y":0.05},{"x":112,"y":-0.07},{"x":114,"y":0.29},{"x":116.5,"y":0.73},{"x":119,"y":0.92},{"x":122.8,"y":0.77},{"x":127,"y":0.43}],
    "g5": [{"x":0,"y":0.77},{"x":2.9,"y":0.45},{"x":6.1,"y":-0.03},{"x":9.9,"y":-0.55},{"x":12.5,"y":-0.75},{"x":15,"y":-0.81},{"x":16.9,"y":-0.72},{"x":18.8,"y":-0.51},{"x":22,"y":-0.03},{"x":25.2,"y":0.45},{"x":27.5,"y":0.75},{"x":30,"y":0.9},{"x":32,"y":0.82},{"x":34,"y":0.61},{"x":37.9,"y":0.13},{"x":41,"y":-0.35},{"x":43.5,"y":-0.7},{"x":45.5,"y":-0.86},{"x":47.5,"y":-0.8},{"x":49.3,"y":-0.59},{"x":53.1,"y":0.05},{"x":56.9,"y":0.53},{"x":59.5,"y":0.78},{"x":62,"y":0.86},{"x":64,"y":0.78},{"x":65.8,"y":0.61},{"x":69.6,"y":0.05},{"x":72.8,"y":-0.19},{"x":74.7,"y":-0.51},{"x":76.5,"y":-0.8},{"x":77.9,"y":-0.9},{"x":79.5,"y":-0.78},{"x":81.7,"y":-0.55},{"x":86.2,"y":0.05},{"x":90.6,"y":0.61},{"x":93,"y":0.8},{"x":95.7,"y":0.86},{"x":98,"y":0.75},{"x":100.1,"y":0.53},{"x":103.9,"y":0.05},{"x":107.8,"y":-0.43},{"x":109.8,"y":-0.68},{"x":111.6,"y":-0.79},{"x":113.5,"y":-0.76},{"x":115.4,"y":-0.67},{"x":117.3,"y":-0.45},{"x":119.2,"y":-0.19},{"x":122.4,"y":0.33},{"x":124.9,"y":0.65},{"x":127,"y":0.69}],
    "g6": [{"x":0,"y":0.6},{"x":3.7,"y":0.13},{"x":7.5,"y":-0.43},{"x":10,"y":-0.7},{"x":12.6,"y":-0.83},{"x":15.7,"y":-0.79},{"x":19.5,"y":-0.51},{"x":23.4,"y":-0.03},{"x":27.2,"y":0.37},{"x":30,"y":0.7},{"x":32.9,"y":0.81},{"x":34.8,"y":0.78},{"x":36.7,"y":0.69},{"x":40.5,"y":0.25},{"x":44.3,"y":-0.27},{"x":48,"y":-0.7},{"x":51.3,"y":-0.85},{"x":53.5,"y":-0.72},{"x":55.7,"y":-0.47},{"x":60.8,"y":0.17},{"x":65.9,"y":0.69},{"x":69.4,"y":0.89},{"x":71.5,"y":0.78},{"x":73.5,"y":0.53},{"x":78.6,"y":-0.03},{"x":83.6,"y":-0.55},{"x":87.2,"y":-0.82},{"x":89,"y":-0.75},{"x":91.2,"y":-0.55},{"x":96.3,"y":0.05},{"x":101.4,"y":0.69},{"x":105.8,"y":0.89},{"x":108.5,"y":0.8},{"x":111.5,"y":0.61},{"x":115.4,"y":0.17},{"x":119.2,"y":-0.43},{"x":122.3,"y":-0.76},{"x":124.2,"y":-0.75},{"x":127,"y":-0.68}],
    "g7": [{"x":0,"y":0.67},{"x":1.6,"y":0.69},{"x":4.2,"y":0.45},{"x":6.7,"y":0.17},{"x":10.5,"y":-0.23},{"x":14.3,"y":-0.59},{"x":18.1,"y":-0.71},{"x":22,"y":-0.79},{"x":24.5,"y":-0.67},{"x":28.3,"y":-0.19},{"x":31.5,"y":0.09},{"x":34.6,"y":0.37},{"x":38.5,"y":0.77},{"x":41.6,"y":0.89},{"x":44.8,"y":0.73},{"x":48.6,"y":0.37},{"x":52.4,"y":-0.07},{"x":57.5,"y":-0.51},{"x":60,"y":-0.72},{"x":62.6,"y":-0.82},{"x":65.1,"y":-0.75},{"x":68.9,"y":-0.27},{"x":72.7,"y":0.01},{"x":76.5,"y":0.41},{"x":79.7,"y":0.85},{"x":82.9,"y":1.0},{"x":86.7,"y":0.73},{"x":90.5,"y":0.25},{"x":94.3,"y":-0.15},{"x":98.1,"y":-0.47},{"x":101,"y":-0.75},{"x":103.8,"y":-0.89},{"x":107,"y":-0.71},{"x":110.2,"y":-0.47},{"x":112,"y":-0.57},{"x":114.6,"y":-0.43},{"x":118.4,"y":0.05},{"x":122.2,"y":0.77},{"x":124.5,"y":0.95},{"x":126,"y":0.98},{"x":127,"y":0.97}],
    "g8": [{"x":0,"y":-0.35},{"x":2.3,"y":-0.63},{"x":4.8,"y":-0.71},{"x":7.4,"y":-0.35},{"x":9.9,"y":0.17},{"x":12.5,"y":0.53},{"x":15.6,"y":0.68},{"x":19.4,"y":0.49},{"x":22.6,"y":0.13},{"x":25.8,"y":-0.43},{"x":29.6,"y":-0.86},{"x":33.4,"y":-0.43},{"x":36.6,"y":0.13},{"x":39.8,"y":0.61},{"x":42.9,"y":0.79},{"x":46.8,"y":0.45},{"x":49.9,"y":-0.11},{"x":53.1,"y":-0.63},{"x":55.4,"y":-0.87},{"x":57.5,"y":-0.7},{"x":59.5,"y":-0.35},{"x":62,"y":0.21},{"x":64.5,"y":0.69},{"x":67.7,"y":0.92},{"x":71.5,"y":0.53},{"x":74.1,"y":-0.03},{"x":77.3,"y":-0.63},{"x":80.1,"y":-0.89},{"x":83.6,"y":-0.43},{"x":86.2,"y":0.17},{"x":89.3,"y":0.73},{"x":91.9,"y":0.88},{"x":95,"y":0.53},{"x":98.2,"y":-0.03},{"x":101.4,"y":-0.63},{"x":104.6,"y":-0.87},{"x":107.8,"y":-0.43},{"x":110.9,"y":0.25},{"x":112.8,"y":0.73},{"x":115.1,"y":0.85},{"x":118.6,"y":0.57},{"x":121.1,"y":0.13},{"x":123.6,"y":-0.43},{"x":125.5,"y":-0.67},{"x":127,"y":-0.74}],
    "g9": [{"x":0,"y":0.61},{"x":3,"y":0.71},{"x":6.2,"y":0.37},{"x":9.4,"y":-0.19},{"x":11.9,"y":-0.63},{"x":14.7,"y":-0.81},{"x":17.6,"y":-0.43},{"x":20.2,"y":0.13},{"x":22.7,"y":0.61},{"x":25.9,"y":0.83},{"x":29.1,"y":0.45},{"x":31.6,"y":-0.19},{"x":34.1,"y":-0.67},{"x":36.4,"y":-0.83},{"x":39.2,"y":-0.51},{"x":42.4,"y":0.21},{"x":44.9,"y":0.69},{"x":47.8,"y":0.84},{"x":50.6,"y":0.53},{"x":53.2,"y":-0.03},{"x":55.7,"y":-0.59},{"x":58.9,"y":-0.89},{"x":62.1,"y":-0.51},{"x":64.6,"y":0.13},{"x":67.1,"y":0.65},{"x":69.7,"y":0.81},{"x":72.8,"y":0.45},{"x":75.4,"y":-0.19},{"x":77.9,"y":-0.67},{"x":80.5,"y":-0.86},{"x":83.6,"y":-0.51},{"x":86.2,"y":0.13},{"x":89.3,"y":0.69},{"x":92.3,"y":0.83},{"x":95.7,"y":0.45},{"x":98.2,"y":-0.11},{"x":101.4,"y":-0.67},{"x":104.6,"y":-0.88},{"x":107.7,"y":-0.51},{"x":110.3,"y":0.13},{"x":112.8,"y":0.61},{"x":115.4,"y":0.78},{"x":118.5,"y":0.53},{"x":121.1,"y":-0.03},{"x":123.6,"y":-0.51},{"x":125.5,"y":-0.73},{"x":127,"y":-0.75}],
    "r1": [{"k":1,"x":0,"y":-0.3},{"k":1,"x":5,"y":0.5},{"k":1,"x":10,"y":0.8},{"k":1,"x":16,"y":0.72},{"k":1,"x":22,"y":0.1},{"k":1,"x":28,"y":-0.5},{"k":1,"x":35,"y":-0.85},{"k":1,"x":41,"y":-0.4},{"k":1,"x":47,"y":0.15},{"k":1,"x":53,"y":0.75},{"k":1,"x":57,"y":0.9},{"k":1,"x":63,"y":0.4},{"k":1,"x":68,"y":-0.2},{"k":1,"x":73,"y":-0.55},{"k":1,"x":78,"y":-0.85},{"k":1,"x":82,"y":-0.5},{"k":1,"x":88,"y":0.0},{"k":1,"x":94,"y":0.55},{"k":1,"x":99,"y":0.95},{"k":1,"x":104,"y":0.75},{"k":1,"x":110,"y":0.1},{"k":1,"x":115,"y":-0.45},{"k":1,"x":120,"y":-0.8},{"k":1,"x":124,"y":-0.8},{"k":1,"x":127,"y":-0.55},
      {"k":2,"x":0,"y":0.0},{"k":2,"x":5,"y":0.6},{"k":2,"x":9,"y":0.78},{"k":2,"x":14,"y":0.7},{"k":2,"x":18,"y":0.65},{"k":2,"x":23,"y":0.0},{"k":2,"x":29,"y":-0.62},{"k":2,"x":34,"y":-0.9},{"k":2,"x":40,"y":-0.5},{"k":2,"x":46,"y":0.0},{"k":2,"x":51,"y":0.45},{"k":2,"x":56,"y":0.82},{"k":2,"x":60,"y":0.6},{"k":2,"x":66,"y":0.0},{"k":2,"x":72,"y":-0.5},{"k":2,"x":77,"y":-0.82},{"k":2,"x":81,"y":-0.45},{"k":2,"x":86,"y":-0.15},{"k":2,"x":91,"y":0.3},{"k":2,"x":97,"y":0.85},{"k":2,"x":102,"y":0.88},{"k":2,"x":107,"y":0.4},{"k":2,"x":112,"y":-0.25},{"k":2,"x":118,"y":-0.78},{"k":2,"x":122,"y":-0.84},{"k":2,"x":127,"y":-0.5}],
    "r2": [{"k":1,"x":0,"y":-0.6},{"k":1,"x":5,"y":-0.8},{"k":1,"x":10,"y":-0.35},{"k":1,"x":15,"y":0.5},{"k":1,"x":20,"y":0.9},{"k":1,"x":25,"y":0.6},{"k":1,"x":30,"y":-0.1},{"k":1,"x":36,"y":-0.8},{"k":1,"x":41,"y":-0.7},{"k":1,"x":46,"y":0.0},{"k":1,"x":51,"y":0.65},{"k":1,"x":55,"y":0.85},{"k":1,"x":60,"y":0.5},{"k":1,"x":65,"y":-0.3},{"k":1,"x":70,"y":-0.8},{"k":1,"x":74,"y":-0.5},{"k":1,"x":78,"y":0.15},{"k":1,"x":83,"y":0.9},{"k":1,"x":88,"y":0.5},{"k":1,"x":93,"y":-0.3},{"k":1,"x":98,"y":-0.8},{"k":1,"x":102,"y":-0.5},{"k":1,"x":106,"y":0.2},{"k":1,"x":111,"y":0.95},{"k":1,"x":115,"y":0.5},{"k":1,"x":120,"y":-0.4},{"k":1,"x":124,"y":-1.0},{"k":1,"x":127,"y":-0.9},
      {"k":2,"x":0,"y":-0.9},{"k":2,"x":5,"y":-0.7},{"k":2,"x":10,"y":-0.1},{"k":2,"x":15,"y":0.6},{"k":2,"x":20,"y":0.85},{"k":2,"x":25,"y":0.45},{"k":2,"x":30,"y":-0.2},{"k":2,"x":37,"y":-0.9},{"k":2,"x":42,"y":-0.55},{"k":2,"x":47,"y":0.15},{"k":2,"x":52,"y":0.7},{"k":2,"x":56,"y":0.75},{"k":2,"x":61,"y":0.3},{"k":2,"x":66,"y":-0.5},{"k":2,"x":70,"y":-0.9},{"k":2,"x":74,"y":-0.4},{"k":2,"x":78,"y":0.25},{"k":2,"x":84,"y":0.85},{"k":2,"x":89,"y":0.35},{"k":2,"x":94,"y":-0.4},{"k":2,"x":99,"y":-0.65},{"k":2,"x":103,"y":-0.3},{"k":2,"x":107,"y":0.35},{"k":2,"x":111,"y":0.8},{"k":2,"x":116,"y":0.35},{"k":2,"x":121,"y":-0.35},{"k":2,"x":125,"y":-0.4},{"k":2,"x":127,"y":-0.3}],
    "r3": [{"k":1,"x":0,"y":-0.8},{"k":1,"x":3,"y":-0.6},{"k":1,"x":7,"y":0.0},{"k":1,"x":12,"y":0.45},{"k":1,"x":16,"y":0.5},{"k":1,"x":20,"y":0.3},{"k":1,"x":24,"y":0.5},{"k":1,"x":27,"y":0.2},{"k":1,"x":30,"y":-0.3},{"k":1,"x":33,"y":0.4},{"k":1,"x":36,"y":0.75},{"k":1,"x":40,"y":0.1},{"k":1,"x":44,"y":-0.7},{"k":1,"x":48,"y":-0.75},{"k":1,"x":52,"y":-0.1},{"k":1,"x":56,"y":0.75},{"k":1,"x":59,"y":0.8},{"k":1,"x":63,"y":0.0},{"k":1,"x":67,"y":-0.9},{"k":1,"x":70,"y":-0.8},{"k":1,"x":74,"y":0.1},{"k":1,"x":78,"y":0.9},{"k":1,"x":81,"y":0.7},{"k":1,"x":85,"y":-0.1},{"k":1,"x":89,"y":-0.85},{"k":1,"x":93,"y":-0.5},{"k":1,"x":97,"y":0.35},{"k":1,"x":101,"y":0.9},{"k":1,"x":105,"y":0.4},{"k":1,"x":108,"y":-0.3},{"k":1,"x":112,"y":-0.85},{"k":1,"x":116,"y":-0.3},{"k":1,"x":120,"y":0.5},{"k":1,"x":124,"y":0.95},{"k":1,"x":127,"y":0.75},
      {"k":2,"x":0,"y":-0.5},{"k":2,"x":3,"y":-0.55},{"k":2,"x":7,"y":-0.1},{"k":2,"x":11,"y":0.4},{"k":2,"x":14,"y":0.5},{"k":2,"x":18,"y":0.2},{"k":2,"x":22,"y":-0.2},{"k":2,"x":25,"y":-0.4},{"k":2,"x":28,"y":-0.1},{"k":2,"x":32,"y":0.45},{"k":2,"x":35,"y":0.7},{"k":2,"x":39,"y":0.3},{"k":2,"x":43,"y":-0.5},{"k":2,"x":47,"y":-0.95},{"k":2,"x":50,"y":-0.5},{"k":2,"x":54,"y":0.35},{"k":2,"x":58,"y":0.8},{"k":2,"x":62,"y":0.2},{"k":2,"x":66,"y":-0.6},{"k":2,"x":69,"y":-0.95},{"k":2,"x":72,"y":-0.4},{"k":2,"x":76,"y":0.5},{"k":2,"x":79,"y":0.75},{"k":2,"x":83,"y":0.3},{"k":2,"x":87,"y":-0.5},{"k":2,"x":90,"y":-0.9},{"k":2,"x":94,"y":-0.2},{"k":2,"x":98,"y":0.6},{"k":2,"x":101,"y":0.78},{"k":2,"x":105,"y":0.3},{"k":2,"x":109,"y":-0.45},{"k":2,"x":112,"y":-0.75},{"k":2,"x":116,"y":-0.2},{"k":2,"x":120,"y":0.5},{"k":2,"x":124,"y":0.65},{"k":2,"x":127,"y":0.6}],
    "r4": [{"k":1,"x":0,"y":0.2},{"k":1,"x":3,"y":-0.2},{"k":1,"x":7,"y":-0.7},{"k":1,"x":11,"y":-0.85},{"k":1,"x":15,"y":-0.95},{"k":1,"x":19,"y":-0.3},{"k":1,"x":23,"y":0.4},{"k":1,"x":26,"y":0.95},{"k":1,"x":28,"y":1.05},{"k":1,"x":31,"y":0.8},{"k":1,"x":35,"y":0.5},{"k":1,"x":40,"y":0.2},{"k":1,"x":45,"y":-0.3},{"k":1,"x":50,"y":-0.7},{"k":1,"x":54,"y":-0.85},{"k":1,"x":58,"y":-0.6},{"k":1,"x":63,"y":0.0},{"k":1,"x":68,"y":0.5},{"k":1,"x":73,"y":0.75},{"k":1,"x":77,"y":0.8},{"k":1,"x":81,"y":0.5},{"k":1,"x":86,"y":0.0},{"k":1,"x":91,"y":-0.5},{"k":1,"x":95,"y":-0.9},{"k":1,"x":99,"y":-0.85},{"k":1,"x":103,"y":-0.5},{"k":1,"x":107,"y":-0.1},{"k":1,"x":111,"y":0.3},{"k":1,"x":115,"y":0.6},{"k":1,"x":119,"y":0.85},{"k":1,"x":123,"y":0.95},{"k":1,"x":127,"y":0.95},
      {"k":2,"x":0,"y":0.3},{"k":2,"x":4,"y":-0.3},{"k":2,"x":8,"y":-0.5},{"k":2,"x":12,"y":-0.6},{"k":2,"x":15,"y":-0.55},{"k":2,"x":20,"y":-0.1},{"k":2,"x":24,"y":0.3},{"k":2,"x":28,"y":0.6},{"k":2,"x":33,"y":0.85},{"k":2,"x":37,"y":0.7},{"k":2,"x":41,"y":0.3},{"k":2,"x":46,"y":-0.2},{"k":2,"x":51,"y":-0.6},{"k":2,"x":56,"y":-0.9},{"k":2,"x":60,"y":-0.6},{"k":2,"x":65,"y":0.0},{"k":2,"x":70,"y":0.5},{"k":2,"x":74,"y":0.8},{"k":2,"x":78,"y":0.85},{"k":2,"x":82,"y":0.5},{"k":2,"x":87,"y":-0.05},{"k":2,"x":92,"y":-0.6},{"k":2,"x":97,"y":-0.8},{"k":2,"x":101,"y":-0.95},{"k":2,"x":105,"y":-0.7},{"k":2,"x":109,"y":-0.3},{"k":2,"x":113,"y":0.1},{"k":2,"x":117,"y":0.55},{"k":2,"x":121,"y":0.75},{"k":2,"x":125,"y":0.7},{"k":2,"x":127,"y":0.6},
      {"k":3,"x":0,"y":-0.2},{"k":3,"x":4,"y":-0.5},{"k":3,"x":8,"y":-0.8},{"k":3,"x":12,"y":-0.7},{"k":3,"x":16,"y":-0.8},{"k":3,"x":20,"y":-0.2},{"k":3,"x":24,"y":0.2},{"k":3,"x":28,"y":0.5},{"k":3,"x":32,"y":0.7},{"k":3,"x":36,"y":0.6},{"k":3,"x":41,"y":0.2},{"k":3,"x":46,"y":-0.2},{"k":3,"x":51,"y":-0.55},{"k":3,"x":55,"y":-0.75},{"k":3,"x":60,"y":-0.4},{"k":3,"x":65,"y":0.1},{"k":3,"x":70,"y":0.6},{"k":3,"x":75,"y":0.9},{"k":3,"x":79,"y":0.7},{"k":3,"x":84,"y":0.2},{"k":3,"x":89,"y":-0.3},{"k":3,"x":94,"y":-0.7},{"k":3,"x":98,"y":-0.6},{"k":3,"x":102,"y":-0.7},{"k":3,"x":106,"y":-0.6},{"k":3,"x":110,"y":-0.25},{"k":3,"x":114,"y":0.2},{"k":3,"x":118,"y":0.65},{"k":3,"x":122,"y":0.85},{"k":3,"x":127,"y":0.9}],
    "r5": [{"k":1,"x":0,"y":0.95},{"k":1,"x":4,"y":0.6},{"k":1,"x":8,"y":0.0},{"k":1,"x":12,"y":-0.7},{"k":1,"x":16,"y":-0.95},{"k":1,"x":20,"y":-0.7},{"k":1,"x":24,"y":0.0},{"k":1,"x":28,"y":0.7},{"k":1,"x":31,"y":0.85},{"k":1,"x":35,"y":0.45},{"k":1,"x":39,"y":0.1},{"k":1,"x":43,"y":-0.3},{"k":1,"x":47,"y":-0.8},{"k":1,"x":51,"y":-0.65},{"k":1,"x":55,"y":-0.1},{"k":1,"x":59,"y":0.55},{"k":1,"x":63,"y":0.85},{"k":1,"x":67,"y":0.5},{"k":1,"x":71,"y":0.0},{"k":1,"x":75,"y":-0.6},{"k":1,"x":79,"y":-0.95},{"k":1,"x":83,"y":-0.7},{"k":1,"x":87,"y":-0.1},{"k":1,"x":91,"y":0.45},{"k":1,"x":95,"y":0.8},{"k":1,"x":99,"y":0.7},{"k":1,"x":103,"y":0.2},{"k":1,"x":107,"y":-0.3},{"k":1,"x":111,"y":-0.5},{"k":1,"x":115,"y":-0.6},{"k":1,"x":119,"y":-0.5},{"k":1,"x":123,"y":-0.1},{"k":1,"x":127,"y":0.3},
      {"k":2,"x":0,"y":0.6},{"k":2,"x":4,"y":0.3},{"k":2,"x":8,"y":-0.3},{"k":2,"x":12,"y":-0.6},{"k":2,"x":16,"y":-0.85},{"k":2,"x":20,"y":-0.55},{"k":2,"x":24,"y":0.1},{"k":2,"x":28,"y":0.5},{"k":2,"x":32,"y":0.75},{"k":2,"x":36,"y":0.6},{"k":2,"x":40,"y":0.3},{"k":2,"x":44,"y":-0.2},{"k":2,"x":48,"y":-0.6},{"k":2,"x":52,"y":-0.3},{"k":2,"x":56,"y":0.3},{"k":2,"x":60,"y":0.65},{"k":2,"x":64,"y":0.7},{"k":2,"x":68,"y":0.3},{"k":2,"x":72,"y":-0.3},{"k":2,"x":76,"y":-0.8},{"k":2,"x":80,"y":-0.8},{"k":2,"x":84,"y":-0.4},{"k":2,"x":88,"y":0.2},{"k":2,"x":92,"y":0.6},{"k":2,"x":96,"y":0.75},{"k":2,"x":100,"y":0.4},{"k":2,"x":104,"y":-0.2},{"k":2,"x":108,"y":-0.5},{"k":2,"x":112,"y":-0.6},{"k":2,"x":116,"y":-0.65},{"k":2,"x":120,"y":-0.4},{"k":2,"x":124,"y":0.0},{"k":2,"x":127,"y":0.1},
      {"k":3,"x":0,"y":0.8},{"k":3,"x":4,"y":0.5},{"k":3,"x":8,"y":-0.1},{"k":3,"x":12,"y":-0.55},{"k":3,"x":16,"y":-0.75},{"k":3,"x":20,"y":-0.35},{"k":3,"x":24,"y":0.3},{"k":3,"x":28,"y":0.6},{"k":3,"x":32,"y":0.6},{"k":3,"x":36,"y":0.3},{"k":3,"x":40,"y":-0.1},{"k":3,"x":44,"y":-0.5},{"k":3,"x":48,"y":-0.85},{"k":3,"x":52,"y":-0.45},{"k":3,"x":56,"y":0.2},{"k":3,"x":60,"y":0.5},{"k":3,"x":64,"y":0.6},{"k":3,"x":68,"y":0.3},{"k":3,"x":72,"y":-0.1},{"k":3,"x":76,"y":-0.55},{"k":3,"x":80,"y":-0.85},{"k":3,"x":84,"y":-0.6},{"k":3,"x":88,"y":0.0},{"k":3,"x":92,"y":0.4},{"k":3,"x":96,"y":0.6},{"k":3,"x":100,"y":0.5},{"k":3,"x":104,"y":0.1},{"k":3,"x":108,"y":-0.35},{"k":3,"x":112,"y":-0.7},{"k":3,"x":116,"y":-0.85},{"k":3,"x":120,"y":-0.7},{"k":3,"x":124,"y":-0.4},{"k":3,"x":127,"y":-0.2}],
    "r6": [{"k":1,"x":0,"y":0.75},{"k":1,"x":4,"y":0.3},{"k":1,"x":7,"y":0.0},{"k":1,"x":10,"y":-0.4},{"k":1,"x":13,"y":-0.95},{"k":1,"x":17,"y":-0.8},{"k":1,"x":21,"y":-0.3},{"k":1,"x":25,"y":0.2},{"k":1,"x":29,"y":0.55},{"k":1,"x":33,"y":0.75},{"k":1,"x":37,"y":0.6},{"k":1,"x":41,"y":0.1},{"k":1,"x":45,"y":-0.4},{"k":1,"x":49,"y":-0.9},{"k":1,"x":52,"y":-0.85},{"k":1,"x":56,"y":-0.4},{"k":1,"x":61,"y":0.2},{"k":1,"x":66,"y":0.65},{"k":1,"x":70,"y":0.8},{"k":1,"x":74,"y":0.4},{"k":1,"x":79,"y":-0.2},{"k":1,"x":84,"y":-0.65},{"k":1,"x":88,"y":-0.95},{"k":1,"x":92,"y":-0.5},{"k":1,"x":97,"y":0.1},{"k":1,"x":102,"y":0.65},{"k":1,"x":106,"y":0.85},{"k":1,"x":110,"y":0.5},{"k":1,"x":114,"y":0.0},{"k":1,"x":118,"y":-0.5},{"k":1,"x":121,"y":-0.95},{"k":1,"x":124,"y":-0.7},{"k":1,"x":127,"y":-0.4},
      {"k":2,"x":0,"y":0.5},{"k":2,"x":3,"y":0.15},{"k":2,"x":6,"y":-0.1},{"k":2,"x":9,"y":0.0},{"k":2,"x":12,"y":-0.5},{"k":2,"x":16,"y":-0.7},{"k":2,"x":20,"y":-0.45},{"k":2,"x":24,"y":0.0},{"k":2,"x":28,"y":0.45},{"k":2,"x":33,"y":0.7},{"k":2,"x":37,"y":0.6},{"k":2,"x":41,"y":0.2},{"k":2,"x":45,"y":-0.35},{"k":2,"x":49,"y":-0.75},{"k":2,"x":52,"y":-0.8},{"k":2,"x":56,"y":-0.45},{"k":2,"x":61,"y":0.15},{"k":2,"x":66,"y":0.6},{"k":2,"x":70,"y":0.75},{"k":2,"x":74,"y":0.5},{"k":2,"x":79,"y":0.0},{"k":2,"x":84,"y":-0.5},{"k":2,"x":88,"y":-0.75},{"k":2,"x":92,"y":-0.45},{"k":2,"x":97,"y":0.15},{"k":2,"x":102,"y":0.6},{"k":2,"x":106,"y":0.8},{"k":2,"x":110,"y":0.65},{"k":2,"x":114,"y":0.2},{"k":2,"x":118,"y":-0.3},{"k":2,"x":122,"y":-0.55},{"k":2,"x":125,"y":-0.5},{"k":2,"x":127,"y":-0.5}],
    "r7": [{"k":1,"x":0,"y":0.3},{"k":1,"x":4,"y":0.4},{"k":1,"x":8,"y":0.3},{"k":1,"x":12,"y":-0.5},{"k":1,"x":16,"y":-0.6},{"k":1,"x":20,"y":-0.8},{"k":1,"x":24,"y":-0.5},{"k":1,"x":28,"y":-0.2},{"k":1,"x":32,"y":0.1},{"k":1,"x":36,"y":0.6},{"k":1,"x":41,"y":1.0},{"k":1,"x":45,"y":0.6},{"k":1,"x":49,"y":0.3},{"k":1,"x":53,"y":-0.1},{"k":1,"x":57,"y":-0.5},{"k":1,"x":62,"y":-0.95},{"k":1,"x":66,"y":-0.6},{"k":1,"x":70,"y":-0.2},{"k":1,"x":74,"y":0.1},{"k":1,"x":78,"y":0.5},{"k":1,"x":83,"y":0.75},{"k":1,"x":87,"y":0.8},{"k":1,"x":91,"y":0.35},{"k":1,"x":95,"y":-0.2},{"k":1,"x":99,"y":-0.6},{"k":1,"x":104,"y":-0.85},{"k":1,"x":108,"y":-0.7},{"k":1,"x":112,"y":-0.4},{"k":1,"x":116,"y":-0.1},{"k":1,"x":120,"y":0.4},{"k":1,"x":124,"y":0.8},{"k":1,"x":127,"y":0.85},
      {"k":2,"x":0,"y":0.5},{"k":2,"x":4,"y":0.5},{"k":2,"x":8,"y":0.1},{"k":2,"x":12,"y":-0.3},{"k":2,"x":16,"y":-0.65},{"k":2,"x":20,"y":-0.6},{"k":2,"x":24,"y":-0.4},{"k":2,"x":28,"y":-0.05},{"k":2,"x":32,"y":0.2},{"k":2,"x":36,"y":0.55},{"k":2,"x":40,"y":0.8},{"k":2,"x":44,"y":0.75},{"k":2,"x":48,"y":0.45},{"k":2,"x":52,"y":-0.1},{"k":2,"x":56,"y":-0.4},{"k":2,"x":61,"y":-0.8},{"k":2,"x":65,"y":-0.65},{"k":2,"x":69,"y":-0.15},{"k":2,"x":73,"y":0.05},{"k":2,"x":77,"y":0.4},{"k":2,"x":81,"y":0.8},{"k":2,"x":85,"y":0.85},{"k":2,"x":89,"y":0.45},{"k":2,"x":93,"y":0.0},{"k":2,"x":97,"y":-0.45},{"k":2,"x":101,"y":-0.65},{"k":2,"x":105,"y":-0.95},{"k":2,"x":109,"y":-0.5},{"k":2,"x":113,"y":-0.3},{"k":2,"x":117,"y":0.1},{"k":2,"x":121,"y":0.6},{"k":2,"x":125,"y":0.85},{"k":2,"x":127,"y":0.85}],
    "r8": [{"k":1,"x":0,"y":-0.2},{"k":1,"x":3,"y":-0.4},{"k":1,"x":6,"y":0.0},{"k":1,"x":9,"y":0.9},{"k":1,"x":11,"y":0.95},{"k":1,"x":14,"y":0.7},{"k":1,"x":18,"y":0.6},{"k":1,"x":22,"y":0.2},{"k":1,"x":26,"y":-0.5},{"k":1,"x":30,"y":-1.0},{"k":1,"x":34,"y":-0.5},{"k":1,"x":37,"y":0.2},{"k":1,"x":40,"y":0.65},{"k":1,"x":43,"y":0.75},{"k":1,"x":47,"y":0.35},{"k":1,"x":50,"y":-0.2},{"k":1,"x":53,"y":-0.7},{"k":1,"x":56,"y":-0.85},{"k":1,"x":59,"y":-0.4},{"k":1,"x":62,"y":0.3},{"k":1,"x":65,"y":1.0},{"k":1,"x":68,"y":0.85},{"k":1,"x":72,"y":0.3},{"k":1,"x":75,"y":-0.3},{"k":1,"x":78,"y":-0.85},{"k":1,"x":81,"y":-0.9},{"k":1,"x":84,"y":-0.4},{"k":1,"x":87,"y":0.3},{"k":1,"x":90,"y":0.65},{"k":1,"x":93,"y":0.6},{"k":1,"x":96,"y":0.25},{"k":1,"x":99,"y":-0.4},{"k":1,"x":102,"y":-0.75},{"k":1,"x":105,"y":-0.75},{"k":1,"x":108,"y":-0.3},{"k":1,"x":111,"y":0.3},{"k":1,"x":114,"y":0.75},{"k":1,"x":117,"y":0.7},{"k":1,"x":120,"y":0.45},{"k":1,"x":124,"y":0.0},{"k":1,"x":127,"y":-0.3},
      {"k":2,"x":0,"y":-0.4},{"k":2,"x":3,"y":-0.6},{"k":2,"x":6,"y":-0.4},{"k":2,"x":9,"y":0.1},{"k":2,"x":12,"y":0.4},{"k":2,"x":16,"y":0.65},{"k":2,"x":20,"y":0.5},{"k":2,"x":23,"y":0.0},{"k":2,"x":26,"y":-0.6},{"k":2,"x":29,"y":-0.85},{"k":2,"x":33,"y":-0.5},{"k":2,"x":36,"y":0.05},{"k":2,"x":40,"y":0.6},{"k":2,"x":43,"y":0.75},{"k":2,"x":47,"y":0.4},{"k":2,"x":50,"y":-0.15},{"k":2,"x":53,"y":-0.6},{"k":2,"x":56,"y":-0.9},{"k":2,"x":59,"y":-0.5},{"k":2,"x":62,"y":0.15},{"k":2,"x":65,"y":0.7},{"k":2,"x":68,"y":0.85},{"k":2,"x":72,"y":0.45},{"k":2,"x":75,"y":-0.15},{"k":2,"x":78,"y":-0.7},{"k":2,"x":81,"y":-0.9},{"k":2,"x":84,"y":-0.45},{"k":2,"x":87,"y":0.25},{"k":2,"x":90,"y":0.75},{"k":2,"x":93,"y":0.8},{"k":2,"x":96,"y":0.35},{"k":2,"x":99,"y":-0.2},{"k":2,"x":102,"y":-0.7},{"k":2,"x":105,"y":-0.95},{"k":2,"x":108,"y":-0.4},{"k":2,"x":111,"y":0.25},{"k":2,"x":114,"y":0.75},{"k":2,"x":117,"y":0.8},{"k":2,"x":120,"y":0.4},{"k":2,"x":124,"y":-0.4},{"k":2,"x":127,"y":-0.75}],
    "r9": [{"k":1,"x":0,"y":0.3},{"k":1,"x":3,"y":0.6},{"k":1,"x":6,"y":0.2},{"k":1,"x":9,"y":-0.1},{"k":1,"x":12,"y":-0.45},{"k":1,"x":15,"y":-0.6},{"k":1,"x":18,"y":-0.4},{"k":1,"x":21,"y":-0.3},{"k":1,"x":24,"y":0.4},{"k":1,"x":27,"y":0.75},{"k":1,"x":30,"y":0.3},{"k":1,"x":33,"y":-0.5},{"k":1,"x":36,"y":-0.9},{"k":1,"x":39,"y":-0.6},{"k":1,"x":42,"y":0.1},{"k":1,"x":45,"y":0.6},{"k":1,"x":48,"y":0.8},{"k":1,"x":51,"y":0.5},{"k":1,"x":54,"y":-0.1},{"k":1,"x":57,"y":-0.8},{"k":1,"x":60,"y":-0.95},{"k":1,"x":63,"y":-0.4},{"k":1,"x":66,"y":0.4},{"k":1,"x":70,"y":0.95},{"k":1,"x":73,"y":0.5},{"k":1,"x":76,"y":-0.3},{"k":1,"x":79,"y":-0.95},{"k":1,"x":82,"y":-0.8},{"k":1,"x":85,"y":-0.1},{"k":1,"x":89,"y":0.6},{"k":1,"x":92,"y":0.8},{"k":1,"x":95,"y":0.5},{"k":1,"x":99,"y":-0.3},{"k":1,"x":102,"y":-0.75},{"k":1,"x":105,"y":-0.95},{"k":1,"x":108,"y":-0.4},{"k":1,"x":111,"y":0.3},{"k":1,"x":114,"y":0.95},{"k":1,"x":117,"y":0.8},{"k":1,"x":120,"y":0.3},{"k":1,"x":123,"y":-0.4},{"k":1,"x":125,"y":-0.75},{"k":1,"x":127,"y":-0.8},
      {"k":2,"x":0,"y":0.7},{"k":2,"x":3,"y":0.7},{"k":2,"x":6,"y":0.45},{"k":2,"x":9,"y":-0.1},{"k":2,"x":12,"y":-0.7},{"k":2,"x":15,"y":-0.75},{"k":2,"x":18,"y":-0.3},{"k":2,"x":21,"y":0.25},{"k":2,"x":24,"y":0.7},{"k":2,"x":27,"y":0.8},{"k":2,"x":30,"y":0.3},{"k":2,"x":33,"y":-0.45},{"k":2,"x":36,"y":-0.8},{"k":2,"x":39,"y":-0.55},{"k":2,"x":42,"y":0.1},{"k":2,"x":45,"y":0.65},{"k":2,"x":48,"y":0.8},{"k":2,"x":51,"y":0.45},{"k":2,"x":54,"y":-0.15},{"k":2,"x":57,"y":-0.7},{"k":2,"x":60,"y":-0.85},{"k":2,"x":63,"y":-0.35},{"k":2,"x":66,"y":0.45},{"k":2,"x":70,"y":0.85},{"k":2,"x":73,"y":0.4},{"k":2,"x":76,"y":-0.3},{"k":2,"x":79,"y":-0.8},{"k":2,"x":82,"y":-0.75},{"k":2,"x":85,"y":-0.15},{"k":2,"x":89,"y":0.65},{"k":2,"x":92,"y":0.85},{"k":2,"x":95,"y":0.5},{"k":2,"x":99,"y":-0.3},{"k":2,"x":102,"y":-0.8},{"k":2,"x":105,"y":-0.85},{"k":2,"x":108,"y":-0.35},{"k":2,"x":111,"y":0.35},{"k":2,"x":114,"y":0.8},{"k":2,"x":117,"y":0.7},{"k":2,"x":120,"y":0.2},{"k":2,"x":123,"y":-0.5},{"k":2,"x":125,"y":-0.8},{"k":2,"x":127,"y":-0.8}]
  },
  "concat": [
    {"width": 336, "height": 333,
     "encoding": {"x": {"field": "x", "type": "quantitative", "scale": {"domain": [0, 127], "nice": false, "zero": false}, "axis": {"values": [0, 20, 40, 60, 80, 100, 120], "labels": false}},
                  "y": {"field": "y", "type": "quantitative", "scale": {"domain": [-2, 2], "nice": false}, "axis": {"values": [-2, -1.5, -1, -0.5, 0, 0.5, 1, 1.5, 2], "format": ".1f"}}},
     "layer": [
       {"data": {"name": "r1"}, "mark": {"type": "line", "interpolate": "monotone", "clip": true, "color": "#a09a94", "opacity": 0.45, "strokeWidth": 1.5}, "encoding": {"detail": {"field": "k", "type": "nominal"}}},
       {"data": {"name": "n1"}, "mark": {"type": "line", "clip": true, "strokeWidth": 1.8, "strokeJoin": "round"}, "encoding": {"color": {"datum": "noise", "type": "nominal", "scale": {"domain": ["noise", "generated"], "range": ["#000000", "#ffa500"]}, "legend": {"title": null, "orient": "bottom-right", "encode": {"symbols": {"update": {"strokeWidth": {"signal": "datum.value === 'generated' ? 5 : 1.8"}}}}}}}},
       {"data": {"name": "g1"}, "mark": {"type": "line", "interpolate": "monotone", "clip": true, "strokeWidth": 5}, "encoding": {"color": {"datum": "generated", "type": "nominal"}}}
     ]},
    {"width": 336, "height": 333,
     "encoding": {"x": {"field": "x", "type": "quantitative", "scale": {"domain": [0, 127], "nice": false, "zero": false}, "axis": {"values": [0, 20, 40, 60, 80, 100, 120], "labels": false}},
                  "y": {"field": "y", "type": "quantitative", "scale": {"domain": [-2, 2], "nice": false}, "axis": {"values": [-2, -1.5, -1, -0.5, 0, 0.5, 1, 1.5, 2], "labels": false}}},
     "layer": [
       {"data": {"name": "r2"}, "mark": {"type": "line", "interpolate": "monotone", "clip": true, "color": "#a09a94", "opacity": 0.45, "strokeWidth": 1.5}, "encoding": {"detail": {"field": "k", "type": "nominal"}}},
       {"data": {"name": "n2"}, "mark": {"type": "line", "clip": true, "strokeWidth": 1.8, "strokeJoin": "round"}, "encoding": {"color": {"datum": "noise", "type": "nominal", "scale": {"domain": ["noise", "generated"], "range": ["#000000", "#ffa500"]}, "legend": {"title": null, "orient": "none", "legendX": 112, "legendY": 5, "encode": {"symbols": {"update": {"strokeWidth": {"signal": "datum.value === 'generated' ? 5 : 1.8"}}}}}}}},
       {"data": {"name": "g2"}, "mark": {"type": "line", "interpolate": "monotone", "clip": true, "strokeWidth": 5}, "encoding": {"color": {"datum": "generated", "type": "nominal"}}}
     ]},
    {"width": 336, "height": 333,
     "encoding": {"x": {"field": "x", "type": "quantitative", "scale": {"domain": [0, 127], "nice": false, "zero": false}, "axis": {"values": [0, 20, 40, 60, 80, 100, 120], "labels": false}},
                  "y": {"field": "y", "type": "quantitative", "scale": {"domain": [-2, 2], "nice": false}, "axis": {"values": [-2, -1.5, -1, -0.5, 0, 0.5, 1, 1.5, 2], "labels": false}}},
     "layer": [
       {"data": {"name": "r3"}, "mark": {"type": "line", "interpolate": "monotone", "clip": true, "color": "#a09a94", "opacity": 0.45, "strokeWidth": 1.5}, "encoding": {"detail": {"field": "k", "type": "nominal"}}},
       {"data": {"name": "n3"}, "mark": {"type": "line", "clip": true, "strokeWidth": 1.8, "strokeJoin": "round"}, "encoding": {"color": {"datum": "noise", "type": "nominal", "scale": {"domain": ["noise", "generated"], "range": ["#000000", "#ffa500"]}, "legend": {"title": null, "orient": "top-left", "encode": {"symbols": {"update": {"strokeWidth": {"signal": "datum.value === 'generated' ? 5 : 1.8"}}}}}}}},
       {"data": {"name": "g3"}, "mark": {"type": "line", "interpolate": "monotone", "clip": true, "strokeWidth": 5}, "encoding": {"color": {"datum": "generated", "type": "nominal"}}}
     ]},
    {"width": 336, "height": 333,
     "encoding": {"x": {"field": "x", "type": "quantitative", "scale": {"domain": [0, 127], "nice": false, "zero": false}, "axis": {"values": [0, 20, 40, 60, 80, 100, 120], "labels": false}},
                  "y": {"field": "y", "type": "quantitative", "scale": {"domain": [-2, 2], "nice": false}, "axis": {"values": [-2, -1.5, -1, -0.5, 0, 0.5, 1, 1.5, 2], "format": ".1f"}}},
     "layer": [
       {"data": {"name": "r4"}, "mark": {"type": "line", "interpolate": "monotone", "clip": true, "color": "#a09a94", "opacity": 0.45, "strokeWidth": 1.5}, "encoding": {"detail": {"field": "k", "type": "nominal"}}},
       {"data": {"name": "n4"}, "mark": {"type": "line", "clip": true, "strokeWidth": 1.8, "strokeJoin": "round"}, "encoding": {"color": {"datum": "noise", "type": "nominal", "scale": {"domain": ["noise", "generated"], "range": ["#000000", "#ffa500"]}, "legend": {"title": null, "orient": "top-right", "encode": {"symbols": {"update": {"strokeWidth": {"signal": "datum.value === 'generated' ? 5 : 1.8"}}}}}}}},
       {"data": {"name": "g4"}, "mark": {"type": "line", "interpolate": "monotone", "clip": true, "strokeWidth": 5}, "encoding": {"color": {"datum": "generated", "type": "nominal"}}}
     ]},
    {"width": 336, "height": 333,
     "encoding": {"x": {"field": "x", "type": "quantitative", "scale": {"domain": [0, 127], "nice": false, "zero": false}, "axis": {"values": [0, 20, 40, 60, 80, 100, 120], "labels": false}},
                  "y": {"field": "y", "type": "quantitative", "scale": {"domain": [-2, 2], "nice": false}, "axis": {"values": [-2, -1.5, -1, -0.5, 0, 0.5, 1, 1.5, 2], "labels": false}}},
     "layer": [
       {"data": {"name": "r5"}, "mark": {"type": "line", "interpolate": "monotone", "clip": true, "color": "#a09a94", "opacity": 0.45, "strokeWidth": 1.5}, "encoding": {"detail": {"field": "k", "type": "nominal"}}},
       {"data": {"name": "n5"}, "mark": {"type": "line", "clip": true, "strokeWidth": 1.8, "strokeJoin": "round"}, "encoding": {"color": {"datum": "noise", "type": "nominal", "scale": {"domain": ["noise", "generated"], "range": ["#000000", "#ffa500"]}, "legend": {"title": null, "orient": "top-right", "encode": {"symbols": {"update": {"strokeWidth": {"signal": "datum.value === 'generated' ? 5 : 1.8"}}}}}}}},
       {"data": {"name": "g5"}, "mark": {"type": "line", "interpolate": "monotone", "clip": true, "strokeWidth": 5}, "encoding": {"color": {"datum": "generated", "type": "nominal"}}}
     ]},
    {"width": 336, "height": 333,
     "encoding": {"x": {"field": "x", "type": "quantitative", "scale": {"domain": [0, 127], "nice": false, "zero": false}, "axis": {"values": [0, 20, 40, 60, 80, 100, 120], "labels": false}},
                  "y": {"field": "y", "type": "quantitative", "scale": {"domain": [-2, 2], "nice": false}, "axis": {"values": [-2, -1.5, -1, -0.5, 0, 0.5, 1, 1.5, 2], "labels": false}}},
     "layer": [
       {"data": {"name": "r6"}, "mark": {"type": "line", "interpolate": "monotone", "clip": true, "color": "#a09a94", "opacity": 0.45, "strokeWidth": 1.5}, "encoding": {"detail": {"field": "k", "type": "nominal"}}},
       {"data": {"name": "n6"}, "mark": {"type": "line", "clip": true, "strokeWidth": 1.8, "strokeJoin": "round"}, "encoding": {"color": {"datum": "noise", "type": "nominal", "scale": {"domain": ["noise", "generated"], "range": ["#000000", "#ffa500"]}, "legend": {"title": null, "orient": "top-right", "encode": {"symbols": {"update": {"strokeWidth": {"signal": "datum.value === 'generated' ? 5 : 1.8"}}}}}}}},
       {"data": {"name": "g6"}, "mark": {"type": "line", "interpolate": "monotone", "clip": true, "strokeWidth": 5}, "encoding": {"color": {"datum": "generated", "type": "nominal"}}}
     ]},
    {"width": 336, "height": 333,
     "encoding": {"x": {"field": "x", "type": "quantitative", "scale": {"domain": [0, 127], "nice": false, "zero": false}, "axis": {"values": [0, 20, 40, 60, 80, 100, 120], "labelFlush": false}},
                  "y": {"field": "y", "type": "quantitative", "scale": {"domain": [-2, 2], "nice": false}, "axis": {"values": [-2, -1.5, -1, -0.5, 0, 0.5, 1, 1.5, 2], "format": ".1f"}}},
     "layer": [
       {"data": {"name": "r7"}, "mark": {"type": "line", "interpolate": "monotone", "clip": true, "color": "#a09a94", "opacity": 0.45, "strokeWidth": 1.5}, "encoding": {"detail": {"field": "k", "type": "nominal"}}},
       {"data": {"name": "n7"}, "mark": {"type": "line", "clip": true, "strokeWidth": 1.8, "strokeJoin": "round"}, "encoding": {"color": {"datum": "noise", "type": "nominal", "scale": {"domain": ["noise", "generated"], "range": ["#000000", "#ffa500"]}, "legend": {"title": null, "orient": "bottom-right", "encode": {"symbols": {"update": {"strokeWidth": {"signal": "datum.value === 'generated' ? 5 : 1.8"}}}}}}}},
       {"data": {"name": "g7"}, "mark": {"type": "line", "interpolate": "monotone", "clip": true, "strokeWidth": 5}, "encoding": {"color": {"datum": "generated", "type": "nominal"}}}
     ]},
    {"width": 336, "height": 333,
     "encoding": {"x": {"field": "x", "type": "quantitative", "scale": {"domain": [0, 127], "nice": false, "zero": false}, "axis": {"values": [0, 20, 40, 60, 80, 100, 120], "labelFlush": false}},
                  "y": {"field": "y", "type": "quantitative", "scale": {"domain": [-2, 2], "nice": false}, "axis": {"values": [-2, -1.5, -1, -0.5, 0, 0.5, 1, 1.5, 2], "labels": false}}},
     "layer": [
       {"data": {"name": "r8"}, "mark": {"type": "line", "interpolate": "monotone", "clip": true, "color": "#a09a94", "opacity": 0.45, "strokeWidth": 1.5}, "encoding": {"detail": {"field": "k", "type": "nominal"}}},
       {"data": {"name": "n8"}, "mark": {"type": "line", "clip": true, "strokeWidth": 1.8, "strokeJoin": "round"}, "encoding": {"color": {"datum": "noise", "type": "nominal", "scale": {"domain": ["noise", "generated"], "range": ["#000000", "#ffa500"]}, "legend": {"title": null, "orient": "bottom-right", "encode": {"symbols": {"update": {"strokeWidth": {"signal": "datum.value === 'generated' ? 5 : 1.8"}}}}}}}},
       {"data": {"name": "g8"}, "mark": {"type": "line", "interpolate": "monotone", "clip": true, "strokeWidth": 5}, "encoding": {"color": {"datum": "generated", "type": "nominal"}}}
     ]},
    {"width": 336, "height": 333,
     "encoding": {"x": {"field": "x", "type": "quantitative", "scale": {"domain": [0, 127], "nice": false, "zero": false}, "axis": {"values": [0, 20, 40, 60, 80, 100, 120], "labelFlush": false}},
                  "y": {"field": "y", "type": "quantitative", "scale": {"domain": [-2, 2], "nice": false}, "axis": {"values": [-2, -1.5, -1, -0.5, 0, 0.5, 1, 1.5, 2], "labels": false}}},
     "layer": [
       {"data": {"name": "r9"}, "mark": {"type": "line", "interpolate": "monotone", "clip": true, "color": "#a09a94", "opacity": 0.45, "strokeWidth": 1.5}, "encoding": {"detail": {"field": "k", "type": "nominal"}}},
       {"data": {"name": "n9"}, "mark": {"type": "line", "clip": true, "strokeWidth": 1.8, "strokeJoin": "round"}, "encoding": {"color": {"datum": "noise", "type": "nominal", "scale": {"domain": ["noise", "generated"], "range": ["#000000", "#ffa500"]}, "legend": {"title": null, "orient": "none", "legendX": 112, "legendY": 285, "encode": {"symbols": {"update": {"strokeWidth": {"signal": "datum.value === 'generated' ? 5 : 1.8"}}}}}}}},
       {"data": {"name": "g9"}, "mark": {"type": "line", "interpolate": "monotone", "clip": true, "strokeWidth": 5}, "encoding": {"color": {"datum": "generated", "type": "nominal"}}}
     ]}
  ]
}
